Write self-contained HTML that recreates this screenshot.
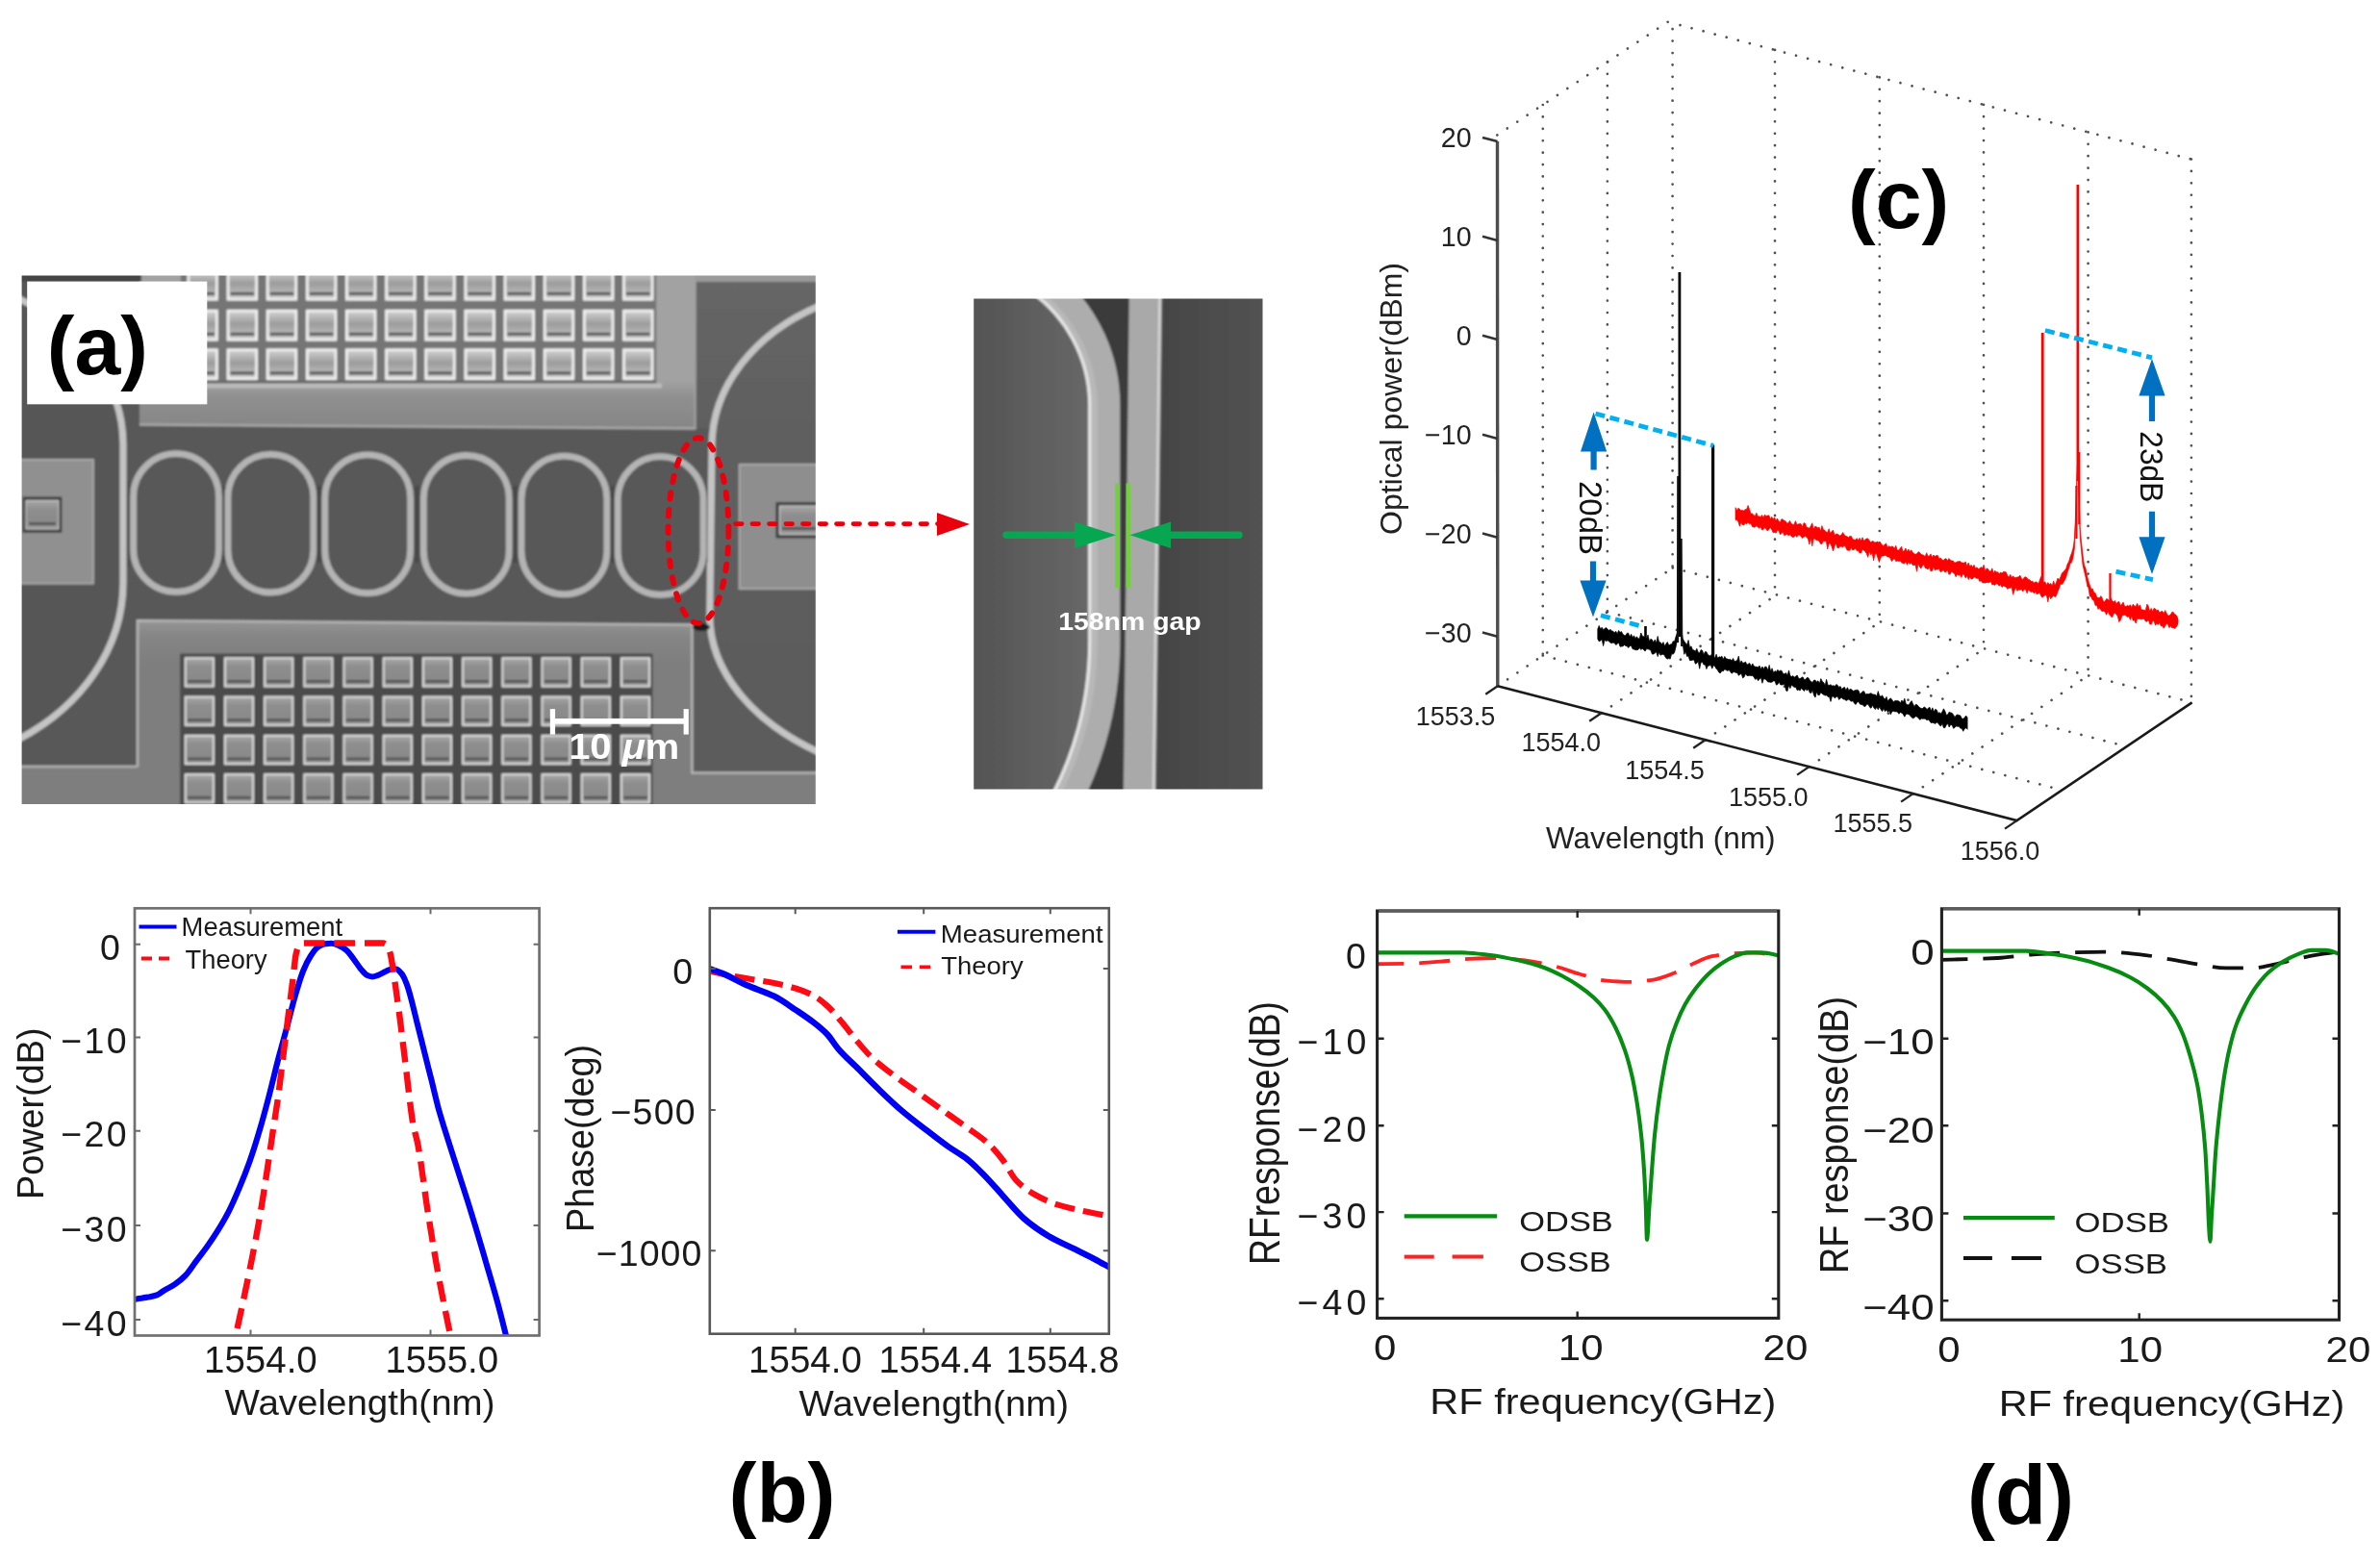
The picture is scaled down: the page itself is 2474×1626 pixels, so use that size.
<!DOCTYPE html>
<html lang="en"><head><meta charset="utf-8"><title>Figure</title>
<style>html,body{margin:0;padding:0;background:#fff}svg{display:block;filter:blur(0.55px)}</style></head><body>
<svg width="2474" height="1626" viewBox="0 0 2474 1626">
<defs>
<linearGradient id="tg" x1="0" y1="0" x2="0" y2="1"><stop offset="0" stop-color="#a8a8a8"/><stop offset="0.3" stop-color="#8e8e8e"/><stop offset="0.7" stop-color="#8a8a8a"/><stop offset="1" stop-color="#9a9a9a"/></linearGradient>
<linearGradient id="tgT" x1="0" y1="0" x2="0" y2="1"><stop offset="0" stop-color="#d2d2d2"/><stop offset="0.45" stop-color="#9c9c9c"/><stop offset="0.75" stop-color="#b4b4b4"/><stop offset="1" stop-color="#cfcfcf"/></linearGradient>
<linearGradient id="ing" gradientUnits="userSpaceOnUse" x1="1012" y1="0" x2="1150" y2="0"><stop offset="0" stop-color="#545454"/><stop offset="0.45" stop-color="#5e5e5e"/><stop offset="0.85" stop-color="#676767"/><stop offset="1" stop-color="#646464"/></linearGradient>
<linearGradient id="ing2" gradientUnits="userSpaceOnUse" x1="1205" y1="0" x2="1313" y2="0"><stop offset="0" stop-color="#444"/><stop offset="0.5" stop-color="#4d4d4d"/><stop offset="1" stop-color="#525252"/></linearGradient>
<filter id="soft" x="-2%" y="-2%" width="104%" height="104%"><feGaussianBlur stdDeviation="0.9"/></filter>
<filter id="soft2" x="-2%" y="-2%" width="104%" height="104%"><feGaussianBlur stdDeviation="1.2"/></filter>
<linearGradient id="padT" gradientUnits="userSpaceOnUse" x1="0" y1="396" x2="0" y2="446"><stop offset="0" stop-color="#a2a2a2"/><stop offset="0.35" stop-color="#8f8f8f"/><stop offset="1" stop-color="#868686"/></linearGradient>
<linearGradient id="padB" gradientUnits="userSpaceOnUse" x1="0" y1="644" x2="0" y2="690"><stop offset="0" stop-color="#969696"/><stop offset="0.4" stop-color="#858585"/><stop offset="1" stop-color="#7e7e7e"/></linearGradient>
<linearGradient id="subR" gradientUnits="userSpaceOnUse" x1="0" y1="293" x2="0" y2="836"><stop offset="0" stop-color="#666"/><stop offset="0.3" stop-color="#5f5f5f"/><stop offset="1" stop-color="#5b5b5b"/></linearGradient>
</defs>
<rect width="2474" height="1626" fill="#fff"/>
<clipPath id="semclip"><rect x="22.6" y="286.5" width="825.2" height="549.5"/></clipPath>
<g clip-path="url(#semclip)"><g filter="url(#soft)">
<rect x="0" y="270" width="900" height="600" fill="#595959"/>
<path d="M724,270 H864 V870 H719 V650 H737.5 L740,445 H724 Z" fill="url(#subR)"/>
<path d="M0,270 H128 V606 A235,193 0 0 1 15,770.8 L0,780 Z" fill="#565656"/>
<path d="M145,270 H723.5 V445.5 L145,441.5 Z" fill="url(#padT)"/>
<path d="M145,441.5 L723.5,445.5" stroke="#a8a8a8" stroke-width="2.5" fill="none"/>
<path d="M722.5,270 V445" stroke="#a0a0a0" stroke-width="2" fill="none"/>
<rect x="723" y="270" width="140" height="23" fill="#9a9a9a"/>
<rect x="10" y="270" width="137" height="22.5" fill="#444"/>
<rect x="188" y="270" width="494.2" height="127.6" fill="#747474"/>
<rect x="188" y="396.2" width="494.2" height="2.4" fill="#555" opacity="0.7"/><rect x="188" y="398.6" width="500" height="5" fill="#c4c4c4" opacity="0.75"/>
<rect x="648.5" y="281.2" width="29.6" height="30" fill="url(#tgT)" stroke="#efefef" stroke-width="2.8"/><rect x="650.9" y="303.8" width="24.8" height="3.2" fill="#5c5c5c"/>
<rect x="607.4" y="281.2" width="29.6" height="30" fill="url(#tgT)" stroke="#efefef" stroke-width="2.8"/><rect x="609.8" y="303.8" width="24.8" height="3.2" fill="#5c5c5c"/>
<rect x="566.2" y="281.2" width="29.6" height="30" fill="url(#tgT)" stroke="#efefef" stroke-width="2.8"/><rect x="568.6" y="303.8" width="24.8" height="3.2" fill="#5c5c5c"/>
<rect x="525" y="281.2" width="29.6" height="30" fill="url(#tgT)" stroke="#efefef" stroke-width="2.8"/><rect x="527.4" y="303.8" width="24.8" height="3.2" fill="#5c5c5c"/>
<rect x="483.9" y="281.2" width="29.6" height="30" fill="url(#tgT)" stroke="#efefef" stroke-width="2.8"/><rect x="486.3" y="303.8" width="24.8" height="3.2" fill="#5c5c5c"/>
<rect x="442.7" y="281.2" width="29.6" height="30" fill="url(#tgT)" stroke="#efefef" stroke-width="2.8"/><rect x="445.1" y="303.8" width="24.8" height="3.2" fill="#5c5c5c"/>
<rect x="401.6" y="281.2" width="29.6" height="30" fill="url(#tgT)" stroke="#efefef" stroke-width="2.8"/><rect x="404" y="303.8" width="24.8" height="3.2" fill="#5c5c5c"/>
<rect x="360.4" y="281.2" width="29.6" height="30" fill="url(#tgT)" stroke="#efefef" stroke-width="2.8"/><rect x="362.8" y="303.8" width="24.8" height="3.2" fill="#5c5c5c"/>
<rect x="319.3" y="281.2" width="29.6" height="30" fill="url(#tgT)" stroke="#efefef" stroke-width="2.8"/><rect x="321.7" y="303.8" width="24.8" height="3.2" fill="#5c5c5c"/>
<rect x="278.1" y="281.2" width="29.6" height="30" fill="url(#tgT)" stroke="#efefef" stroke-width="2.8"/><rect x="280.6" y="303.8" width="24.8" height="3.2" fill="#5c5c5c"/>
<rect x="237" y="281.2" width="29.6" height="30" fill="url(#tgT)" stroke="#efefef" stroke-width="2.8"/><rect x="239.4" y="303.8" width="24.8" height="3.2" fill="#5c5c5c"/>
<rect x="195.8" y="281.2" width="29.6" height="30" fill="url(#tgT)" stroke="#efefef" stroke-width="2.8"/><rect x="198.2" y="303.8" width="24.8" height="3.2" fill="#5c5c5c"/>
<rect x="648.5" y="323.2" width="29.6" height="30" fill="url(#tgT)" stroke="#efefef" stroke-width="2.8"/><rect x="650.9" y="345.8" width="24.8" height="3.2" fill="#5c5c5c"/>
<rect x="607.4" y="323.2" width="29.6" height="30" fill="url(#tgT)" stroke="#efefef" stroke-width="2.8"/><rect x="609.8" y="345.8" width="24.8" height="3.2" fill="#5c5c5c"/>
<rect x="566.2" y="323.2" width="29.6" height="30" fill="url(#tgT)" stroke="#efefef" stroke-width="2.8"/><rect x="568.6" y="345.8" width="24.8" height="3.2" fill="#5c5c5c"/>
<rect x="525" y="323.2" width="29.6" height="30" fill="url(#tgT)" stroke="#efefef" stroke-width="2.8"/><rect x="527.4" y="345.8" width="24.8" height="3.2" fill="#5c5c5c"/>
<rect x="483.9" y="323.2" width="29.6" height="30" fill="url(#tgT)" stroke="#efefef" stroke-width="2.8"/><rect x="486.3" y="345.8" width="24.8" height="3.2" fill="#5c5c5c"/>
<rect x="442.7" y="323.2" width="29.6" height="30" fill="url(#tgT)" stroke="#efefef" stroke-width="2.8"/><rect x="445.1" y="345.8" width="24.8" height="3.2" fill="#5c5c5c"/>
<rect x="401.6" y="323.2" width="29.6" height="30" fill="url(#tgT)" stroke="#efefef" stroke-width="2.8"/><rect x="404" y="345.8" width="24.8" height="3.2" fill="#5c5c5c"/>
<rect x="360.4" y="323.2" width="29.6" height="30" fill="url(#tgT)" stroke="#efefef" stroke-width="2.8"/><rect x="362.8" y="345.8" width="24.8" height="3.2" fill="#5c5c5c"/>
<rect x="319.3" y="323.2" width="29.6" height="30" fill="url(#tgT)" stroke="#efefef" stroke-width="2.8"/><rect x="321.7" y="345.8" width="24.8" height="3.2" fill="#5c5c5c"/>
<rect x="278.1" y="323.2" width="29.6" height="30" fill="url(#tgT)" stroke="#efefef" stroke-width="2.8"/><rect x="280.6" y="345.8" width="24.8" height="3.2" fill="#5c5c5c"/>
<rect x="237" y="323.2" width="29.6" height="30" fill="url(#tgT)" stroke="#efefef" stroke-width="2.8"/><rect x="239.4" y="345.8" width="24.8" height="3.2" fill="#5c5c5c"/>
<rect x="195.8" y="323.2" width="29.6" height="30" fill="url(#tgT)" stroke="#efefef" stroke-width="2.8"/><rect x="198.2" y="345.8" width="24.8" height="3.2" fill="#5c5c5c"/>
<rect x="648.5" y="363.7" width="29.6" height="30" fill="url(#tgT)" stroke="#efefef" stroke-width="2.8"/><rect x="650.9" y="386.3" width="24.8" height="3.2" fill="#5c5c5c"/>
<rect x="607.4" y="363.7" width="29.6" height="30" fill="url(#tgT)" stroke="#efefef" stroke-width="2.8"/><rect x="609.8" y="386.3" width="24.8" height="3.2" fill="#5c5c5c"/>
<rect x="566.2" y="363.7" width="29.6" height="30" fill="url(#tgT)" stroke="#efefef" stroke-width="2.8"/><rect x="568.6" y="386.3" width="24.8" height="3.2" fill="#5c5c5c"/>
<rect x="525" y="363.7" width="29.6" height="30" fill="url(#tgT)" stroke="#efefef" stroke-width="2.8"/><rect x="527.4" y="386.3" width="24.8" height="3.2" fill="#5c5c5c"/>
<rect x="483.9" y="363.7" width="29.6" height="30" fill="url(#tgT)" stroke="#efefef" stroke-width="2.8"/><rect x="486.3" y="386.3" width="24.8" height="3.2" fill="#5c5c5c"/>
<rect x="442.7" y="363.7" width="29.6" height="30" fill="url(#tgT)" stroke="#efefef" stroke-width="2.8"/><rect x="445.1" y="386.3" width="24.8" height="3.2" fill="#5c5c5c"/>
<rect x="401.6" y="363.7" width="29.6" height="30" fill="url(#tgT)" stroke="#efefef" stroke-width="2.8"/><rect x="404" y="386.3" width="24.8" height="3.2" fill="#5c5c5c"/>
<rect x="360.4" y="363.7" width="29.6" height="30" fill="url(#tgT)" stroke="#efefef" stroke-width="2.8"/><rect x="362.8" y="386.3" width="24.8" height="3.2" fill="#5c5c5c"/>
<rect x="319.3" y="363.7" width="29.6" height="30" fill="url(#tgT)" stroke="#efefef" stroke-width="2.8"/><rect x="321.7" y="386.3" width="24.8" height="3.2" fill="#5c5c5c"/>
<rect x="278.1" y="363.7" width="29.6" height="30" fill="url(#tgT)" stroke="#efefef" stroke-width="2.8"/><rect x="280.6" y="386.3" width="24.8" height="3.2" fill="#5c5c5c"/>
<rect x="237" y="363.7" width="29.6" height="30" fill="url(#tgT)" stroke="#efefef" stroke-width="2.8"/><rect x="239.4" y="386.3" width="24.8" height="3.2" fill="#5c5c5c"/>
<rect x="195.8" y="363.7" width="29.6" height="30" fill="url(#tgT)" stroke="#efefef" stroke-width="2.8"/><rect x="198.2" y="386.3" width="24.8" height="3.2" fill="#5c5c5c"/>
<path d="M143,645.2 L719.4,649.6 V803.5 H870 V860 H0 V797 H143 Z" fill="url(#padB)"/>
<path d="M143,797 V645.2 L719.4,649.6 V803.5 H870" stroke="#b4b4b4" stroke-width="2.5" fill="none"/>
<path d="M0,797 H143" stroke="#b0b0b0" stroke-width="2.5" fill="none"/>
<rect x="187" y="679.5" width="491.5" height="180" fill="#4c4c4c"/>
<rect x="192.7" y="684.2" width="29.2" height="29.4" fill="url(#tg)" stroke="#e0e0e0" stroke-width="1.9"/><rect x="195" y="706.9" width="24.6" height="3" fill="#555"/>
<rect x="233.9" y="684.2" width="29.2" height="29.4" fill="url(#tg)" stroke="#e0e0e0" stroke-width="1.9"/><rect x="236.2" y="706.9" width="24.6" height="3" fill="#555"/>
<rect x="275.1" y="684.2" width="29.2" height="29.4" fill="url(#tg)" stroke="#e0e0e0" stroke-width="1.9"/><rect x="277.4" y="706.9" width="24.6" height="3" fill="#555"/>
<rect x="316.3" y="684.2" width="29.2" height="29.4" fill="url(#tg)" stroke="#e0e0e0" stroke-width="1.9"/><rect x="318.6" y="706.9" width="24.6" height="3" fill="#555"/>
<rect x="357.5" y="684.2" width="29.2" height="29.4" fill="url(#tg)" stroke="#e0e0e0" stroke-width="1.9"/><rect x="359.8" y="706.9" width="24.6" height="3" fill="#555"/>
<rect x="398.7" y="684.2" width="29.2" height="29.4" fill="url(#tg)" stroke="#e0e0e0" stroke-width="1.9"/><rect x="401" y="706.9" width="24.6" height="3" fill="#555"/>
<rect x="439.9" y="684.2" width="29.2" height="29.4" fill="url(#tg)" stroke="#e0e0e0" stroke-width="1.9"/><rect x="442.2" y="706.9" width="24.6" height="3" fill="#555"/>
<rect x="481.1" y="684.2" width="29.2" height="29.4" fill="url(#tg)" stroke="#e0e0e0" stroke-width="1.9"/><rect x="483.4" y="706.9" width="24.6" height="3" fill="#555"/>
<rect x="522.3" y="684.2" width="29.2" height="29.4" fill="url(#tg)" stroke="#e0e0e0" stroke-width="1.9"/><rect x="524.6" y="706.9" width="24.6" height="3" fill="#555"/>
<rect x="563.5" y="684.2" width="29.2" height="29.4" fill="url(#tg)" stroke="#e0e0e0" stroke-width="1.9"/><rect x="565.8" y="706.9" width="24.6" height="3" fill="#555"/>
<rect x="604.7" y="684.2" width="29.2" height="29.4" fill="url(#tg)" stroke="#e0e0e0" stroke-width="1.9"/><rect x="607" y="706.9" width="24.6" height="3" fill="#555"/>
<rect x="645.9" y="684.2" width="29.2" height="29.4" fill="url(#tg)" stroke="#e0e0e0" stroke-width="1.9"/><rect x="648.2" y="706.9" width="24.6" height="3" fill="#555"/>
<rect x="192.7" y="724.5" width="29.2" height="29.4" fill="url(#tg)" stroke="#e0e0e0" stroke-width="1.9"/><rect x="195" y="747.2" width="24.6" height="3" fill="#555"/>
<rect x="233.9" y="724.5" width="29.2" height="29.4" fill="url(#tg)" stroke="#e0e0e0" stroke-width="1.9"/><rect x="236.2" y="747.2" width="24.6" height="3" fill="#555"/>
<rect x="275.1" y="724.5" width="29.2" height="29.4" fill="url(#tg)" stroke="#e0e0e0" stroke-width="1.9"/><rect x="277.4" y="747.2" width="24.6" height="3" fill="#555"/>
<rect x="316.3" y="724.5" width="29.2" height="29.4" fill="url(#tg)" stroke="#e0e0e0" stroke-width="1.9"/><rect x="318.6" y="747.2" width="24.6" height="3" fill="#555"/>
<rect x="357.5" y="724.5" width="29.2" height="29.4" fill="url(#tg)" stroke="#e0e0e0" stroke-width="1.9"/><rect x="359.8" y="747.2" width="24.6" height="3" fill="#555"/>
<rect x="398.7" y="724.5" width="29.2" height="29.4" fill="url(#tg)" stroke="#e0e0e0" stroke-width="1.9"/><rect x="401" y="747.2" width="24.6" height="3" fill="#555"/>
<rect x="439.9" y="724.5" width="29.2" height="29.4" fill="url(#tg)" stroke="#e0e0e0" stroke-width="1.9"/><rect x="442.2" y="747.2" width="24.6" height="3" fill="#555"/>
<rect x="481.1" y="724.5" width="29.2" height="29.4" fill="url(#tg)" stroke="#e0e0e0" stroke-width="1.9"/><rect x="483.4" y="747.2" width="24.6" height="3" fill="#555"/>
<rect x="522.3" y="724.5" width="29.2" height="29.4" fill="url(#tg)" stroke="#e0e0e0" stroke-width="1.9"/><rect x="524.6" y="747.2" width="24.6" height="3" fill="#555"/>
<rect x="563.5" y="724.5" width="29.2" height="29.4" fill="url(#tg)" stroke="#e0e0e0" stroke-width="1.9"/><rect x="565.8" y="747.2" width="24.6" height="3" fill="#555"/>
<rect x="604.7" y="724.5" width="29.2" height="29.4" fill="url(#tg)" stroke="#e0e0e0" stroke-width="1.9"/><rect x="607" y="747.2" width="24.6" height="3" fill="#555"/>
<rect x="645.9" y="724.5" width="29.2" height="29.4" fill="url(#tg)" stroke="#e0e0e0" stroke-width="1.9"/><rect x="648.2" y="747.2" width="24.6" height="3" fill="#555"/>
<rect x="192.7" y="764.8" width="29.2" height="29.4" fill="url(#tg)" stroke="#e0e0e0" stroke-width="1.9"/><rect x="195" y="787.5" width="24.6" height="3" fill="#555"/>
<rect x="233.9" y="764.8" width="29.2" height="29.4" fill="url(#tg)" stroke="#e0e0e0" stroke-width="1.9"/><rect x="236.2" y="787.5" width="24.6" height="3" fill="#555"/>
<rect x="275.1" y="764.8" width="29.2" height="29.4" fill="url(#tg)" stroke="#e0e0e0" stroke-width="1.9"/><rect x="277.4" y="787.5" width="24.6" height="3" fill="#555"/>
<rect x="316.3" y="764.8" width="29.2" height="29.4" fill="url(#tg)" stroke="#e0e0e0" stroke-width="1.9"/><rect x="318.6" y="787.5" width="24.6" height="3" fill="#555"/>
<rect x="357.5" y="764.8" width="29.2" height="29.4" fill="url(#tg)" stroke="#e0e0e0" stroke-width="1.9"/><rect x="359.8" y="787.5" width="24.6" height="3" fill="#555"/>
<rect x="398.7" y="764.8" width="29.2" height="29.4" fill="url(#tg)" stroke="#e0e0e0" stroke-width="1.9"/><rect x="401" y="787.5" width="24.6" height="3" fill="#555"/>
<rect x="439.9" y="764.8" width="29.2" height="29.4" fill="url(#tg)" stroke="#e0e0e0" stroke-width="1.9"/><rect x="442.2" y="787.5" width="24.6" height="3" fill="#555"/>
<rect x="481.1" y="764.8" width="29.2" height="29.4" fill="url(#tg)" stroke="#e0e0e0" stroke-width="1.9"/><rect x="483.4" y="787.5" width="24.6" height="3" fill="#555"/>
<rect x="522.3" y="764.8" width="29.2" height="29.4" fill="url(#tg)" stroke="#e0e0e0" stroke-width="1.9"/><rect x="524.6" y="787.5" width="24.6" height="3" fill="#555"/>
<rect x="563.5" y="764.8" width="29.2" height="29.4" fill="url(#tg)" stroke="#e0e0e0" stroke-width="1.9"/><rect x="565.8" y="787.5" width="24.6" height="3" fill="#555"/>
<rect x="604.7" y="764.8" width="29.2" height="29.4" fill="url(#tg)" stroke="#e0e0e0" stroke-width="1.9"/><rect x="607" y="787.5" width="24.6" height="3" fill="#555"/>
<rect x="645.9" y="764.8" width="29.2" height="29.4" fill="url(#tg)" stroke="#e0e0e0" stroke-width="1.9"/><rect x="648.2" y="787.5" width="24.6" height="3" fill="#555"/>
<rect x="192.7" y="805.1" width="29.2" height="29.4" fill="url(#tg)" stroke="#e0e0e0" stroke-width="1.9"/><rect x="195" y="827.8" width="24.6" height="3" fill="#555"/>
<rect x="233.9" y="805.1" width="29.2" height="29.4" fill="url(#tg)" stroke="#e0e0e0" stroke-width="1.9"/><rect x="236.2" y="827.8" width="24.6" height="3" fill="#555"/>
<rect x="275.1" y="805.1" width="29.2" height="29.4" fill="url(#tg)" stroke="#e0e0e0" stroke-width="1.9"/><rect x="277.4" y="827.8" width="24.6" height="3" fill="#555"/>
<rect x="316.3" y="805.1" width="29.2" height="29.4" fill="url(#tg)" stroke="#e0e0e0" stroke-width="1.9"/><rect x="318.6" y="827.8" width="24.6" height="3" fill="#555"/>
<rect x="357.5" y="805.1" width="29.2" height="29.4" fill="url(#tg)" stroke="#e0e0e0" stroke-width="1.9"/><rect x="359.8" y="827.8" width="24.6" height="3" fill="#555"/>
<rect x="398.7" y="805.1" width="29.2" height="29.4" fill="url(#tg)" stroke="#e0e0e0" stroke-width="1.9"/><rect x="401" y="827.8" width="24.6" height="3" fill="#555"/>
<rect x="439.9" y="805.1" width="29.2" height="29.4" fill="url(#tg)" stroke="#e0e0e0" stroke-width="1.9"/><rect x="442.2" y="827.8" width="24.6" height="3" fill="#555"/>
<rect x="481.1" y="805.1" width="29.2" height="29.4" fill="url(#tg)" stroke="#e0e0e0" stroke-width="1.9"/><rect x="483.4" y="827.8" width="24.6" height="3" fill="#555"/>
<rect x="522.3" y="805.1" width="29.2" height="29.4" fill="url(#tg)" stroke="#e0e0e0" stroke-width="1.9"/><rect x="524.6" y="827.8" width="24.6" height="3" fill="#555"/>
<rect x="563.5" y="805.1" width="29.2" height="29.4" fill="url(#tg)" stroke="#e0e0e0" stroke-width="1.9"/><rect x="565.8" y="827.8" width="24.6" height="3" fill="#555"/>
<rect x="604.7" y="805.1" width="29.2" height="29.4" fill="url(#tg)" stroke="#e0e0e0" stroke-width="1.9"/><rect x="607" y="827.8" width="24.6" height="3" fill="#555"/>
<rect x="645.9" y="805.1" width="29.2" height="29.4" fill="url(#tg)" stroke="#e0e0e0" stroke-width="1.9"/><rect x="648.2" y="827.8" width="24.6" height="3" fill="#555"/>
<rect x="0" y="478" width="96.9" height="128.6" fill="#909090"/>
<rect x="0" y="478" width="96.9" height="128.6" fill="none" stroke="#a8a8a8" stroke-width="2"/>
<rect x="23.6" y="516.5" width="40.7" height="37.3" fill="#3c3c3c"/>
<rect x="27" y="520.5" width="33.8" height="29.5" fill="url(#tg)" stroke="#ccc" stroke-width="1.2"/>
<rect x="30" y="543" width="28" height="3" fill="#555"/>
<rect x="768.7" y="483" width="100" height="129" fill="#8e8e8e"/>
<rect x="768.7" y="483" width="100" height="129" fill="none" stroke="#a8a8a8" stroke-width="2"/>
<rect x="806.5" y="522" width="60" height="37.5" fill="#3c3c3c"/>
<rect x="810.5" y="526" width="50" height="29.5" fill="url(#tg)" stroke="#ccc" stroke-width="1.2"/>
<rect x="813" y="548" width="40" height="3" fill="#555"/>
<path d="M15,308.2 A235,180 0 0 1 128,462 L128,606 A235,193 0 0 1 15,770.8" stroke="#c4c4c4" stroke-width="7.1" fill="none"/>
<path d="M855,316.6 A215,166.5 0 0 0 740,464 L737.8,640 A272,175 0 0 0 855,783.9" stroke="#c4c4c4" stroke-width="7.1" fill="none"/>
<path d="M232.2,505 V585" stroke="#464646" stroke-width="5" opacity="0.8"/>
<path d="M331.8,505 V585" stroke="#464646" stroke-width="5" opacity="0.8"/>
<path d="M433.5,505 V585" stroke="#464646" stroke-width="5" opacity="0.8"/>
<path d="M535.6,505 V585" stroke="#464646" stroke-width="5" opacity="0.8"/>
<path d="M636.6,505 V585" stroke="#464646" stroke-width="5" opacity="0.8"/>
<path d="M133.4,500 V590 M734.3,505 V585" stroke="#484848" stroke-width="2.4" opacity="0.7"/>
<rect x="138.6" y="471.7" width="88.9" height="143.7" rx="44.5" stroke="#b4b4b4" stroke-width="6.8" fill="none"/>
<rect x="236.9" y="472.3" width="88.9" height="143.7" rx="44.5" stroke="#b4b4b4" stroke-width="6.8" fill="none"/>
<rect x="337.7" y="472.9" width="88.9" height="143.7" rx="44.5" stroke="#b4b4b4" stroke-width="6.8" fill="none"/>
<rect x="440.3" y="473.5" width="88.9" height="143.7" rx="44.5" stroke="#b4b4b4" stroke-width="6.8" fill="none"/>
<rect x="542" y="474.1" width="88.9" height="143.7" rx="44.5" stroke="#b4b4b4" stroke-width="6.8" fill="none"/>
<rect x="642.2" y="474.7" width="88.9" height="143.7" rx="44.5" stroke="#b4b4b4" stroke-width="6.8" fill="none"/>
<ellipse cx="729" cy="652" rx="9" ry="4" fill="#1c1c1c"/>
</g>
<g fill="#fff"><rect x="574.4" y="746.9" width="139.6" height="5.8"/><rect x="571.8" y="737.1" width="5.3" height="26.5"/><rect x="710.6" y="737.1" width="5.2" height="26.5"/></g>
<text x="591.2" y="788.9" style="font-family:'Liberation Sans',sans-serif;font-weight:bold;font-size:37.5px" fill="#fff" textLength="115" lengthAdjust="spacingAndGlyphs">10 <tspan style="font-style:italic">μ</tspan>m</text>
<rect x="28.2" y="292.6" width="187.1" height="127.7" fill="#fff"/>
</g>
<text x="48.8" y="388.8" style="font-family:'Liberation Sans',sans-serif;font-weight:bold;font-size:86px" fill="#000">(a)</text>
<ellipse cx="726" cy="551.6" rx="31.4" ry="96.3" fill="none" stroke="#e8000c" stroke-width="5.9" stroke-dasharray="6.4 11.2" stroke-linecap="round"/>
<path d="M764.5,544.6 H975" stroke="#e8000c" stroke-width="4.7" stroke-dasharray="6.6 10.9" stroke-linecap="round" fill="none"/>
<path d="M974,533 L1008,545 L974,557 Z" fill="#e8000c"/>
<clipPath id="inclip"><rect x="1012.2" y="310.4" width="300.3" height="510.2"/></clipPath>
<g clip-path="url(#inclip)"><g filter="url(#soft2)">
<rect x="1000" y="300" width="330" height="540" fill="url(#ing)"/>
<path d="M1080,300 H1180 L1172,840 H1080 Z" fill="#3b3b3b"/>
<path d="M1000,300 H1093.3 A161.5,161.5 0 0 1 1147.8,421 L1147.8,666 A366.5,366.5 0 0 1 1103.9,840 H1000 Z" fill="url(#ing)"/>
<path d="M1093.3,300 A161.5,161.5 0 0 1 1147.8,421 L1147.8,666 A366.5,366.5 0 0 1 1103.9,840" stroke="#adadad" stroke-width="33" fill="none"/>
<path d="M1071.5,300 A150,150 0 0 1 1136.3,421 L1136.3,666 A355,355 0 0 1 1090.5,840" stroke="#bcbcbc" stroke-width="9" fill="none" opacity="0.75"/>
<path d="M1067.7,300 A146.5,146.5 0 0 1 1132.8,421 L1132.8,666 A351.5,351.5 0 0 1 1086.8,840" stroke="#e6e6e6" stroke-width="3.2" fill="none"/>
<path d="M1173.8,300 H1207.2 L1200.4,840 H1167.7 Z" fill="#a9a9a9"/>
<path d="M1205.8,300 L1199,840" stroke="#d4d4d4" stroke-width="3"/>
<path d="M1209,300 H1330 V840 H1202 Z" fill="url(#ing2)"/>
</g>
<g stroke="#6fd13c" stroke-width="4.4"><path d="M1161.6,502.5 V611"/><path d="M1172.8,502.5 V611"/></g>
<g stroke="#07a651" stroke-width="7.4" stroke-linecap="round"><path d="M1046,556.3 H1125"/><path d="M1288,556.3 H1208"/></g>
<path d="M1117,542.5 L1160,556.3 L1117,570 Z" fill="#07a651"/>
<path d="M1217,542.5 L1174.5,556.3 L1217,570 Z" fill="#07a651"/>
<text x="1100.2" y="654.5" style="font-family:'Liberation Sans',sans-serif;font-weight:bold;font-size:26px" fill="#fff" textLength="148.5" lengthAdjust="spacingAndGlyphs">158nm gap</text>
</g>
<g>
<path d="M1603.8,109 L1603.8,681.5" stroke="#505050" stroke-width="2.7" stroke-dasharray="0.01 12.4" stroke-linecap="round" fill="none"/>
<path d="M1670.9,64.4 L1670.9,636.2" stroke="#505050" stroke-width="2.7" stroke-dasharray="0.01 12.4" stroke-linecap="round" fill="none"/>
<path d="M1738.6,30.2 L1738.6,590.4" stroke="#505050" stroke-width="2.7" stroke-dasharray="0.01 12.4" stroke-linecap="round" fill="none"/>
<path d="M1845,51.9 L1845,617.9" stroke="#505050" stroke-width="2.7" stroke-dasharray="0.01 12.4" stroke-linecap="round" fill="none"/>
<path d="M1953.8,80.4 L1953.8,646.1" stroke="#505050" stroke-width="2.7" stroke-dasharray="0.01 12.4" stroke-linecap="round" fill="none"/>
<path d="M2062,108.8 L2062,674.2" stroke="#505050" stroke-width="2.7" stroke-dasharray="0.01 12.4" stroke-linecap="round" fill="none"/>
<path d="M2170.6,137.4 L2170.6,702.3" stroke="#505050" stroke-width="2.7" stroke-dasharray="0.01 12.4" stroke-linecap="round" fill="none"/>
<path d="M2277.9,165.5 L2277.9,730.1" stroke="#505050" stroke-width="2.7" stroke-dasharray="0.01 12.4" stroke-linecap="round" fill="none"/>
<path d="M1556.4,140.4 L1733.8,22.7" stroke="#505050" stroke-width="2.7" stroke-dasharray="0.01 12.5" stroke-linecap="round" fill="none"/>
<path d="M1746.5,26.1 L2278.2,165.6" stroke="#505050" stroke-width="2.7" stroke-dasharray="0.01 12.45" stroke-linecap="round" fill="none"/>
<path d="M1603.8,681.5 L2143.5,821.4" stroke="#505050" stroke-width="2.7" stroke-dasharray="0.01 12.4" stroke-linecap="round" fill="none"/>
<path d="M1670.9,636.2 L2210.6,776.1" stroke="#505050" stroke-width="2.7" stroke-dasharray="0.01 12.4" stroke-linecap="round" fill="none"/>
<path d="M1738.8,590.4 L2278.6,730.3" stroke="#505050" stroke-width="2.7" stroke-dasharray="0.01 12.4" stroke-linecap="round" fill="none"/>
<path d="M1556.8,713.2 L1738.8,590.4" stroke="#505050" stroke-width="2.7" stroke-dasharray="0.01 12.4" stroke-linecap="round" fill="none"/>
<path d="M1664.7,741.2 L1846.7,618.4" stroke="#505050" stroke-width="2.7" stroke-dasharray="0.01 12.4" stroke-linecap="round" fill="none"/>
<path d="M1772.7,769.2 L1954.7,646.4" stroke="#505050" stroke-width="2.7" stroke-dasharray="0.01 12.4" stroke-linecap="round" fill="none"/>
<path d="M1880.6,797.1 L2062.6,674.3" stroke="#505050" stroke-width="2.7" stroke-dasharray="0.01 12.4" stroke-linecap="round" fill="none"/>
<path d="M1988.6,825.1 L2170.6,702.3" stroke="#505050" stroke-width="2.7" stroke-dasharray="0.01 12.4" stroke-linecap="round" fill="none"/>
</g>
<path d="M1556.5,147 L1556.8,713.2" stroke="#4d4d4d" stroke-width="3.4" fill="none"/>
<path d="M1556.8,713.2 L2096.5,853.1 L2278.6,730.3" stroke="#1a1a1a" stroke-width="2.6" fill="none" stroke-linejoin="miter"/>
<path d="M1556.5,147.1 l-15.5,-4.2" stroke="#333" stroke-width="2.6" fill="none"/>
<text x="1529.6" y="153.3" text-anchor="end" style="font-family:'Liberation Sans',sans-serif;font-size:28.6px" fill="#222">20</text>
<path d="M1556.5,250 l-15.5,-4.2" stroke="#333" stroke-width="2.6" fill="none"/>
<text x="1529.6" y="256.2" text-anchor="end" style="font-family:'Liberation Sans',sans-serif;font-size:28.6px" fill="#222">10</text>
<path d="M1556.5,352.9 l-15.5,-4.2" stroke="#333" stroke-width="2.6" fill="none"/>
<text x="1529.6" y="359.1" text-anchor="end" style="font-family:'Liberation Sans',sans-serif;font-size:28.6px" fill="#222">0</text>
<path d="M1556.5,455.9 l-15.5,-4.2" stroke="#333" stroke-width="2.6" fill="none"/>
<text x="1529.6" y="462.1" text-anchor="end" style="font-family:'Liberation Sans',sans-serif;font-size:28.6px" fill="#222">−10</text>
<path d="M1556.5,558.8 l-15.5,-4.2" stroke="#333" stroke-width="2.6" fill="none"/>
<text x="1529.6" y="565" text-anchor="end" style="font-family:'Liberation Sans',sans-serif;font-size:28.6px" fill="#222">−20</text>
<path d="M1556.5,661.7 l-15.5,-4.2" stroke="#333" stroke-width="2.6" fill="none"/>
<text x="1529.6" y="667.9" text-anchor="end" style="font-family:'Liberation Sans',sans-serif;font-size:28.6px" fill="#222">−30</text>
<path d="M1556.8,713.2 l-12.5,8.5" stroke="#222" stroke-width="2.3" fill="none"/>
<text x="1554.3" y="753.9" text-anchor="end" style="font-family:'Liberation Sans',sans-serif;font-size:27px" fill="#222">1553.5</text>
<path d="M1664.7,741.2 l-12.5,8.5" stroke="#222" stroke-width="2.3" fill="none"/>
<text x="1664.0" y="780.9" text-anchor="end" style="font-family:'Liberation Sans',sans-serif;font-size:27px" fill="#222">1554.0</text>
<path d="M1772.7,769.2 l-12.5,8.5" stroke="#222" stroke-width="2.3" fill="none"/>
<text x="1771.8" y="809.7" text-anchor="end" style="font-family:'Liberation Sans',sans-serif;font-size:27px" fill="#222">1554.5</text>
<path d="M1880.6,797.1 l-12.5,8.5" stroke="#222" stroke-width="2.3" fill="none"/>
<text x="1879.5" y="837.6" text-anchor="end" style="font-family:'Liberation Sans',sans-serif;font-size:27px" fill="#222">1555.0</text>
<path d="M1988.6,825.1 l-12.5,8.5" stroke="#222" stroke-width="2.3" fill="none"/>
<text x="1988.0" y="864.9" text-anchor="end" style="font-family:'Liberation Sans',sans-serif;font-size:27px" fill="#222">1555.5</text>
<path d="M2096.5,853.1 l-12.5,8.5" stroke="#222" stroke-width="2.3" fill="none"/>
<text x="2120.4" y="894.4" text-anchor="end" style="font-family:'Liberation Sans',sans-serif;font-size:27px" fill="#222">1556.0</text>
<text x="1607" y="881.5" style="font-family:'Liberation Sans',sans-serif;font-size:30.5px" fill="#222" textLength="238.5" lengthAdjust="spacingAndGlyphs">Wavelength (nm)</text>
<text transform="translate(1456.5,556) rotate(-90)" style="font-family:'Liberation Sans',sans-serif;font-size:32px" fill="#222" textLength="283" lengthAdjust="spacingAndGlyphs">Optical power(dBm)</text>
<text x="1921" y="236.6" style="font-family:'Liberation Sans',sans-serif;font-weight:bold;font-size:86px" fill="#000">(c)</text>
<polygon points="1660.8,654 1662.2,650.4 1663.7,653.9 1665.2,652.2 1666.6,654.8 1668.1,653.5 1669.5,652.5 1671,653.9 1672.4,655.6 1673.9,654.2 1675.3,655.9 1676.8,656.2 1678.2,657.8 1679.7,656.2 1681.1,658.9 1682.6,655.4 1684,657.4 1685.5,656.6 1686.9,659.3 1688.4,660.4 1689.8,660.7 1691.3,658.2 1692.7,658.2 1694.2,662.3 1695.6,659.3 1697.1,662.8 1698.5,660.8 1700,663.8 1701.4,661.8 1702.9,663.9 1704.3,663.8 1705.8,658 1707.2,661.2 1708.7,661.8 1710.1,662.4 1711.6,664 1713,660 1714.5,666.8 1715.9,664.3 1717.4,665.1 1718.8,668 1720.3,664.9 1721.7,668.5 1723.2,661.4 1724.6,667.8 1726.1,667.7 1727.5,669.9 1729,667.6 1730.4,671.6 1731.9,669.3 1733.3,667.5 1734.8,671 1736.2,669.9 1737.7,669.8 1739.1,666.7 1740.6,667 1742,662 1743.5,657.4 1744.9,648 1746.4,645.4 1747.8,654.7 1749.3,664 1750.7,666.6 1752.2,668.8 1753.6,670.2 1755.1,665.5 1756.5,673.2 1758,671.8 1759.4,675.4 1760.9,675.9 1762.3,677.2 1763.8,674.3 1765.2,678.1 1766.7,678.9 1768.1,675.6 1769.6,676.2 1771,680.5 1772.5,677.6 1773.9,677.8 1775.4,680.7 1776.8,681.4 1778.3,682 1779.7,679.1 1781.2,683.4 1782.6,684 1784.1,680.2 1785.5,684.3 1787,682.7 1788.4,683.3 1789.9,682.2 1791.3,685.6 1792.8,682.4 1794.2,684.7 1795.7,685.1 1797.1,685.8 1798.6,685.3 1800,687 1801.5,684.5 1802.9,687.4 1804.4,687.2 1805.8,686.4 1807.3,682.1 1808.7,689.7 1810.2,686.9 1811.6,689.3 1813.1,689 1814.5,688.1 1816,691.3 1817.4,690.2 1818.9,689.6 1820.3,692.7 1821.8,689.9 1823.2,692.5 1824.7,693.2 1826.1,693.2 1827.6,693.8 1829,692.1 1830.5,695.7 1831.9,693 1833.4,695.5 1834.8,693 1836.3,693.4 1837.7,696.7 1839.2,691.4 1840.6,698 1842.1,694.8 1843.5,699.3 1845,697.6 1846.4,698.5 1847.9,696.3 1849.3,698.1 1850.8,696.9 1852.2,697.5 1853.7,700.8 1855.1,700.6 1856.6,699.5 1858,702.2 1859.5,696.9 1860.9,702.4 1862.4,703.5 1863.8,702.5 1865.3,704.3 1866.7,702.9 1868.2,702 1869.6,705.2 1871.1,705.6 1872.5,704.6 1874,703.8 1875.4,706.4 1876.9,706.4 1878.3,704.5 1879.8,704.7 1881.2,707.1 1882.7,708.7 1884.1,709.4 1885.6,707.1 1887,707.2 1888.5,709.1 1889.9,707.8 1891.4,710.6 1892.8,705.6 1894.3,708.4 1895.7,709.6 1897.2,712.6 1898.6,706.3 1900.1,712.3 1901.5,712.4 1903,711.7 1904.4,713 1905.9,712.8 1907.3,713.4 1908.8,711.5 1910.2,712.4 1911.7,714.5 1913.1,713.5 1914.6,716.7 1916,715 1917.5,714.4 1918.9,717.8 1920.4,714.7 1921.8,717.7 1923.3,716.2 1924.7,716.8 1926.2,718.4 1927.6,717.9 1929.1,717.4 1930.5,717.2 1932,717.9 1933.4,721.4 1934.9,720.6 1936.3,718.8 1937.8,718.8 1939.2,722 1940.7,721.3 1942.1,721.8 1943.6,721.1 1945,720.7 1946.5,721.7 1947.9,722.1 1949.4,722.1 1950.8,723.9 1952.3,718.6 1953.7,723.5 1955.2,724.1 1956.6,722.9 1958.1,725.6 1959.5,727 1961,724.4 1962.4,728.7 1963.9,727 1965.3,725.8 1966.8,727.5 1968.2,730 1969.7,728.5 1971.1,728.4 1972.6,728.4 1974,729.1 1975.5,730.7 1976.9,728 1978.4,729.9 1979.8,726.2 1981.3,731.9 1982.7,732.6 1984.2,733 1985.6,730.4 1987.1,728.6 1988.5,731.7 1990,734.7 1991.4,732.3 1992.9,732.8 1994.3,734.6 1995.8,735.8 1997.2,736.6 1998.7,736.6 2000.1,734.9 2001.6,735.8 2003,737.6 2004.5,736.2 2005.9,735.2 2007.4,739.2 2008.8,735.8 2010.3,740.1 2011.7,737.3 2013.2,738.1 2014.6,741.4 2016.1,740.7 2017.5,741.9 2019,739.9 2020.4,736.8 2021.9,739.5 2023.3,743.4 2024.8,742.8 2026.2,740.2 2027.7,740.9 2029.1,741.3 2030.6,743.2 2032,745.7 2033.5,743.6 2034.9,742.9 2036.4,743.6 2037.8,743.9 2039.3,747 2040.7,747.2 2042.2,746.2 2043.6,744 2045.1,746 2045.1,758.3 2043.6,756.8 2042.2,757.7 2040.7,760.3 2039.3,757.3 2037.8,757.2 2036.4,755.3 2034.9,755.2 2033.5,754.9 2032,756.4 2030.6,757.3 2029.1,753.7 2027.7,753.4 2026.2,755.9 2024.8,752.6 2023.3,753.4 2021.9,756.6 2020.4,756.7 2019,752.2 2017.5,754.9 2016.1,753.9 2014.6,751.7 2013.2,751.1 2011.7,752.5 2010.3,751.8 2008.8,751.2 2007.4,751.7 2005.9,749.7 2004.5,748 2003,748.8 2001.6,747.5 2000.1,747.1 1998.7,747.3 1997.2,747.1 1995.8,748.4 1994.3,746.8 1992.9,745.2 1991.4,744.8 1990,746.1 1988.5,746.8 1987.1,745.8 1985.6,744 1984.2,742.7 1982.7,742.2 1981.3,742.5 1979.8,745.2 1978.4,742.7 1976.9,741.2 1975.5,740.5 1974,742.3 1972.6,740.4 1971.1,739.7 1969.7,739.9 1968.2,739.2 1966.8,739.7 1965.3,742.8 1963.9,738.8 1962.4,740.4 1961,737.7 1959.5,739.8 1958.1,736.5 1956.6,739.6 1955.2,737.8 1953.7,734.8 1952.3,737.8 1950.8,735.1 1949.4,737.6 1947.9,735.9 1946.5,733.2 1945,736.3 1943.6,735.3 1942.1,732.5 1940.7,732 1939.2,734.2 1937.8,734.5 1936.3,732.8 1934.9,732.5 1933.4,732.1 1932,729.5 1930.5,730 1929.1,732.4 1927.6,731.3 1926.2,728.7 1924.7,729.2 1923.3,728.5 1921.8,727.1 1920.4,727.8 1918.9,728.4 1917.5,727 1916,727 1914.6,725.6 1913.1,725.8 1911.7,727.5 1910.2,723.9 1908.8,724.5 1907.3,725.9 1905.9,724.1 1904.4,724.1 1903,729.4 1901.5,724.2 1900.1,724.4 1898.6,722.8 1897.2,723.1 1895.7,722.3 1894.3,721.4 1892.8,719.8 1891.4,722.5 1889.9,722.7 1888.5,719.2 1887,725.1 1885.6,723.1 1884.1,717.6 1882.7,720.6 1881.2,720.1 1879.8,716.4 1878.3,718.1 1876.9,715.9 1875.4,718.5 1874,716.9 1872.5,715.6 1871.1,718 1869.6,717.1 1868.2,717.7 1866.7,714.4 1865.3,714.5 1863.8,713.5 1862.4,712.1 1860.9,715.7 1859.5,712.5 1858,718.6 1856.6,718.1 1855.1,711.5 1853.7,711.8 1852.2,712.1 1850.8,711.9 1849.3,708.9 1847.9,711.6 1846.4,712.1 1845,707.9 1843.5,707.9 1842.1,709.1 1840.6,709.4 1839.2,709 1837.7,709.1 1836.3,707.2 1834.8,706.1 1833.4,705.7 1831.9,710.3 1830.5,704.5 1829,706 1827.6,707.8 1826.1,705.3 1824.7,706.5 1823.2,704 1821.8,702.4 1820.3,702.6 1818.9,702.3 1817.4,702.5 1816,702.5 1814.5,700.4 1813.1,703.8 1811.6,704.9 1810.2,700.3 1808.7,701.2 1807.3,702.3 1805.8,699.5 1804.4,699.5 1802.9,698.5 1801.5,699.1 1800,700.2 1798.6,698.2 1797.1,696.6 1795.7,697.5 1794.2,696.6 1792.8,695.7 1791.3,697.8 1789.9,697.5 1788.4,699.7 1787,699.3 1785.5,696.8 1784.1,695.3 1782.6,692.7 1781.2,691.8 1779.7,695.2 1778.3,691.3 1776.8,692.1 1775.4,692.2 1773.9,695.6 1772.5,690.9 1771,691.1 1769.6,688.3 1768.1,688.8 1766.7,695.3 1765.2,687.5 1763.8,689.6 1762.3,690.2 1760.9,685.9 1759.4,686.3 1758,686.5 1756.5,686.7 1755.1,681.9 1753.6,682.5 1752.2,677.6 1750.7,680.3 1749.3,670 1747.8,662.9 1746.4,650.3 1744.9,654.9 1743.5,665.2 1742,672.8 1740.6,678.4 1739.1,680.3 1737.7,679.5 1736.2,685.1 1734.8,684.6 1733.3,685.1 1731.9,684.3 1730.4,681.8 1729,680.2 1727.5,680.4 1726.1,681.3 1724.6,678.2 1723.2,682.6 1721.7,677.8 1720.3,679 1718.8,680.1 1717.4,680.1 1715.9,676 1714.5,675.2 1713,674.8 1711.6,674.6 1710.1,677.1 1708.7,675.7 1707.2,674.2 1705.8,675.5 1704.3,673.6 1702.9,675.4 1701.4,675.8 1700,675.7 1698.5,675.1 1697.1,674.7 1695.6,671.4 1694.2,671.6 1692.7,673.6 1691.3,671.8 1689.8,671.4 1688.4,670.5 1686.9,672 1685.5,672.1 1684,672.2 1682.6,667.9 1681.1,669.6 1679.7,670.4 1678.2,668.5 1676.8,668.1 1675.3,668.8 1673.9,668.1 1672.4,666.8 1671,665.7 1669.5,666.8 1668.1,665.2 1666.6,671.6 1665.2,664.7 1663.7,666.1 1662.2,666.9 1660.8,664.3" fill="#000" stroke="#000" stroke-width="0.7" stroke-linejoin="miter"/>
<path d="M1745.9,283 V662" stroke="#000" stroke-width="2.8" fill="none"/>
<path d="M1744.3,495 L1744,668 M1747.6,560 L1748.2,672" stroke="#111" stroke-width="2.2" fill="none"/>
<path d="M1780.6,462.5 V691" stroke="#000" stroke-width="3.2" fill="none"/>
<path d="M1710.5,651 V670.7" stroke="#000" stroke-width="2.6" fill="none"/>
<polygon points="1804,527.7 1805.5,530.8 1806.9,528.3 1808.4,529.2 1809.8,530.8 1811.3,530.6 1812.7,530.9 1814.2,529.6 1815.6,529.4 1817.1,525.4 1818.5,529.4 1820,534.1 1821.4,533.8 1822.9,535.5 1824.3,536.4 1825.8,533.2 1827.2,536.8 1828.7,536.8 1830.1,537.5 1831.6,535.4 1833,537.9 1834.5,535.1 1835.9,536.4 1837.4,536 1838.8,535.8 1840.3,539.6 1841.7,537.3 1843.2,539.8 1844.6,537.9 1846.1,541.3 1847.5,539 1849,542 1850.4,542.7 1851.9,539.7 1853.3,540 1854.8,541.3 1856.2,541.9 1857.7,544.3 1859.1,543.5 1860.6,541.4 1862,544.4 1863.5,545.2 1864.9,545.4 1866.4,541.6 1867.8,545.3 1869.3,545 1870.7,544.5 1872.2,544.8 1873.6,547.9 1875.1,543.6 1876.5,544.3 1878,548.3 1879.4,548.4 1880.9,549.3 1882.3,546.8 1883.8,543.7 1885.2,550.3 1886.7,547.3 1888.1,547.4 1889.6,548.9 1891,548.1 1892.5,552 1893.9,546.6 1895.4,550.7 1896.8,551.2 1898.3,553.1 1899.7,553.5 1901.2,549.7 1902.6,554.5 1904.1,552.6 1905.5,551 1907,556.3 1908.4,555.3 1909.9,555 1911.3,555.9 1912.8,557.1 1914.2,555.8 1915.7,553.5 1917.1,556.1 1918.6,557.2 1920,557.8 1921.5,558.7 1922.9,557.4 1924.4,557.4 1925.8,560.4 1927.3,561.1 1928.7,561.2 1930.2,559.6 1931.6,562.1 1933.1,559.3 1934.5,562.3 1936,558.7 1937.4,562.3 1938.9,560.9 1940.3,559.9 1941.8,559.9 1943.2,562 1944.7,564 1946.1,562.4 1947.6,563.1 1949,564.1 1950.5,563.6 1951.9,563 1953.4,565.9 1954.8,564.2 1956.3,566.2 1957.7,567.7 1959.2,566 1960.6,564.9 1962.1,569.2 1963.5,567.6 1965,568.9 1966.4,568 1967.9,568.3 1969.3,570.2 1970.8,567.3 1972.2,571.9 1973.7,571.9 1975.1,570.2 1976.6,568.2 1978,573.3 1979.5,572.4 1980.9,570 1982.4,573.5 1983.8,570.9 1985.3,573.7 1986.7,571.8 1988.2,574.3 1989.6,575.4 1991.1,576.3 1992.5,575.8 1994,573.7 1995.4,574.3 1996.9,576.3 1998.3,576.8 1999.8,577.3 2001.2,578.6 2002.7,574.7 2004.1,578.3 2005.6,577.9 2007,575.9 2008.5,579.5 2009.9,577 2011.4,578.6 2012.8,577.5 2014.3,577.4 2015.7,580.9 2017.2,579.9 2018.6,581.7 2020.1,582.8 2021.5,581.1 2023,580.8 2024.4,583.1 2025.9,580.6 2027.3,582.3 2028.8,583 2030.2,582.9 2031.7,585.1 2033.1,584.8 2034.6,583.9 2036,583.7 2037.5,583.5 2038.9,585 2040.4,585.1 2041.8,585.3 2043.3,584.1 2044.7,588.5 2046.2,585.1 2047.6,589.1 2049.1,587.3 2050.5,589.5 2052,587.3 2053.4,591.1 2054.9,589.8 2056.3,591.4 2057.8,591 2059.2,589.6 2060.7,590.4 2062.1,587.3 2063.6,593.7 2065,590.9 2066.5,591.4 2067.9,593.7 2069.4,594.1 2070.8,590.8 2072.3,595.8 2073.7,593.2 2075.2,594.8 2076.6,594.7 2078.1,596.5 2079.5,595 2081,595.9 2082.4,594.4 2083.9,594.4 2085.3,594.9 2086.8,598.6 2088.2,599.9 2089.7,597.3 2091.1,600.3 2092.6,598.8 2094,600.5 2095.5,600.6 2096.9,600.1 2098.4,599.8 2099.8,598.1 2101.3,601.2 2102.7,602.4 2104.2,600.2 2105.6,599.8 2107.1,600.8 2108.5,602.6 2110,602.8 2111.4,604.5 2112.9,604.2 2114.3,606.1 2115.8,605 2117.2,605 2118.7,607.1 2120.1,603.8 2121.6,599.5 2123,603 2124.5,605.7 2125.9,604.8 2127.4,608.6 2128.8,605.6 2130.3,607.4 2131.7,606.4 2133.2,609 2134.6,604.1 2136.1,608.5 2137.5,605.4 2139,601.1 2140.4,602.8 2141.9,600 2143.3,596.1 2144.8,594.4 2146.2,593.2 2147.7,590.9 2149.1,586.4 2150.6,583.8 2152,578.8 2153.5,574.9 2154.9,570.2 2156.4,560.4 2157.8,530.9 2159.3,484.7 2160.7,495.4 2162.2,550 2163.6,563.7 2165.1,577.5 2166.5,587.5 2168,590.7 2169.4,597.9 2170.9,604.1 2172.3,608.2 2173.8,612.6 2175.2,611.9 2176.7,616.1 2178.1,616.6 2179.6,620.6 2181,621.5 2182.5,621.4 2183.9,619.6 2185.4,622.2 2186.8,626 2188.3,625 2189.7,622.4 2191.2,623.2 2192.6,624.6 2194.1,621.8 2195.5,624.3 2197,625.8 2198.4,624.4 2199.9,627.4 2201.3,626.2 2202.8,625.3 2204.2,629.4 2205.7,628.1 2207.1,626.1 2208.6,630.2 2210,630.6 2211.5,629.3 2212.9,630.2 2214.4,628.7 2215.8,631.5 2217.3,628.1 2218.7,629.9 2220.2,630.4 2221.6,627.2 2223.1,630.9 2224.5,628.8 2226,633.8 2227.4,633.9 2228.9,634.3 2230.3,634.7 2231.8,628.1 2233.2,629.9 2234.7,635.4 2236.1,632.4 2237.6,635.7 2239,632.4 2240.5,632.9 2241.9,634.7 2243.4,634.1 2244.8,637 2246.3,635.8 2247.7,635.3 2249.2,637.8 2250.6,634.6 2252.1,637.3 2253.5,640 2255,639.9 2256.4,638.7 2257.9,636.2 2259.3,636.6 2260.8,639.6 2260.8,653.7 2259.3,649.6 2257.9,652.8 2256.4,650.8 2255,652.7 2253.5,649 2252.1,648.3 2250.6,650.9 2249.2,653.2 2247.7,650.5 2246.3,650.9 2244.8,647.4 2243.4,649.4 2241.9,648.1 2240.5,650.2 2239,645.7 2237.6,645.8 2236.1,649.2 2234.7,648.8 2233.2,644.4 2231.8,646.3 2230.3,645.9 2228.9,643.5 2227.4,643.4 2226,644.1 2224.5,643.6 2223.1,643.6 2221.6,643.3 2220.2,648.1 2218.7,644.7 2217.3,645.3 2215.8,640.5 2214.4,644.4 2212.9,640.8 2211.5,641.5 2210,640.1 2208.6,639.6 2207.1,639.4 2205.7,640.8 2204.2,644.9 2202.8,646.6 2201.3,640.7 2199.9,638.8 2198.4,637.2 2197,638.5 2195.5,642.1 2194.1,640.6 2192.6,638.7 2191.2,635.6 2189.7,639.3 2188.3,636.4 2186.8,635.2 2185.4,635.7 2183.9,634.6 2182.5,632.1 2181,633.4 2179.6,629.2 2178.1,629.5 2176.7,624.8 2175.2,623.7 2173.8,620.8 2172.3,619.8 2170.9,611.1 2169.4,607.2 2168,600.1 2166.5,593.7 2165.1,587.9 2163.6,573.6 2162.2,558 2160.7,503.1 2159.3,491.9 2157.8,536.3 2156.4,570.1 2154.9,580 2153.5,584.8 2152,585.8 2150.6,590.9 2149.1,595.1 2147.7,600.1 2146.2,603.3 2144.8,605.7 2143.3,607.7 2141.9,606.9 2140.4,612.1 2139,615 2137.5,619.4 2136.1,620.8 2134.6,619.3 2133.2,620.8 2131.7,622.7 2130.3,619 2128.8,625.8 2127.4,618.9 2125.9,618.4 2124.5,620 2123,621.2 2121.6,619.4 2120.1,616 2118.7,617.1 2117.2,617.7 2115.8,615 2114.3,616.9 2112.9,614.9 2111.4,615.6 2110,614.6 2108.5,613.3 2107.1,616.8 2105.6,612.8 2104.2,612.8 2102.7,614.9 2101.3,612.6 2099.8,613.3 2098.4,613.1 2096.9,614.4 2095.5,610.7 2094,614.1 2092.6,618.3 2091.1,610.2 2089.7,611.5 2088.2,611.3 2086.8,612.5 2085.3,610.2 2083.9,609.7 2082.4,609.3 2081,610.5 2079.5,607.8 2078.1,609.3 2076.6,607.2 2075.2,606.6 2073.7,608.5 2072.3,607.8 2070.8,607.9 2069.4,604.3 2067.9,605.7 2066.5,605.7 2065,605.4 2063.6,606.3 2062.1,603.7 2060.7,605.6 2059.2,603.7 2057.8,604.5 2056.3,601.1 2054.9,601.6 2053.4,600.4 2052,599.7 2050.5,601.9 2049.1,602.1 2047.6,599.7 2046.2,602.6 2044.7,598.5 2043.3,601 2041.8,598.1 2040.4,596.6 2038.9,600.4 2037.5,597.2 2036,598.6 2034.6,596.9 2033.1,599.7 2031.7,596.5 2030.2,595.6 2028.8,593.9 2027.3,596.7 2025.9,597.3 2024.4,592.7 2023,594.6 2021.5,594.8 2020.1,592.5 2018.6,594.1 2017.2,594.7 2015.7,591.6 2014.3,592.1 2012.8,591.9 2011.4,592.9 2009.9,589.6 2008.5,593.5 2007,593.9 2005.6,589.6 2004.1,592 2002.7,591 2001.2,590.5 1999.8,586.8 1998.3,588.4 1996.9,590.9 1995.4,589.2 1994,586 1992.5,594.2 1991.1,587.4 1989.6,587.4 1988.2,587.5 1986.7,585.1 1985.3,586.6 1983.8,583.9 1982.4,587.3 1980.9,583.8 1979.5,586.2 1978,585.6 1976.6,584.8 1975.1,583.1 1973.7,583.8 1972.2,582.9 1970.8,583.7 1969.3,580.6 1967.9,581.8 1966.4,583.6 1965,580.4 1963.5,579.1 1962.1,578.9 1960.6,577.8 1959.2,577.4 1957.7,578.1 1956.3,578.1 1954.8,580 1953.4,584.5 1951.9,580 1950.5,575.6 1949,575.9 1947.6,582.9 1946.1,574.9 1944.7,576.8 1943.2,573.1 1941.8,579.4 1940.3,575.6 1938.9,573.6 1937.4,571.9 1936,571.4 1934.5,574.9 1933.1,575 1931.6,572.4 1930.2,572.6 1928.7,570 1927.3,571.4 1925.8,572 1924.4,569.5 1922.9,572.2 1921.5,572.3 1920,571.9 1918.6,569 1917.1,566.9 1915.7,569 1914.2,568.2 1912.8,567.9 1911.3,569.7 1909.9,569.6 1908.4,564.8 1907,567.9 1905.5,573 1904.1,568.5 1902.6,565 1901.2,564.8 1899.7,570.9 1898.3,562.4 1896.8,562.7 1895.4,562.3 1893.9,565.4 1892.5,565.4 1891,562.6 1889.6,561.8 1888.1,561.8 1886.7,560.3 1885.2,559.7 1883.8,567.8 1882.3,559.4 1880.9,566.1 1879.4,560.3 1878,558.4 1876.5,557.6 1875.1,558.3 1873.6,559.5 1872.2,557.8 1870.7,556.2 1869.3,556 1867.8,558.4 1866.4,556.6 1864.9,558.2 1863.5,558.5 1862,557.5 1860.6,555.9 1859.1,556.7 1857.7,555.4 1856.2,556.1 1854.8,556.7 1853.3,553.3 1851.9,554.5 1850.4,555.7 1849,551.8 1847.5,551.3 1846.1,554.2 1844.6,553.4 1843.2,553.8 1841.7,550.7 1840.3,548.4 1838.8,550 1837.4,552.1 1835.9,550.3 1834.5,548.3 1833,550.5 1831.6,551 1830.1,547.5 1828.7,549.2 1827.2,547.9 1825.8,546.5 1824.3,548.2 1822.9,548 1821.4,547.6 1820,544 1818.5,544.8 1817.1,542.9 1815.6,545 1814.2,543.8 1812.7,545.9 1811.3,545.7 1809.8,543.1 1808.4,547.2 1806.9,542.4 1805.5,540.6 1804,540.6" fill="#ff0000" stroke="#ff0000" stroke-width="0.7" stroke-linejoin="miter"/>
<ellipse cx="2260" cy="645.8" rx="4.5" ry="7.5" fill="#ff0000"/>
<path d="M2159.8,192 V500" stroke="#ff0000" stroke-width="2.6" fill="none"/>
<path d="M2158.4,505 V560 M2161.3,470 V545" stroke="#ff0000" stroke-width="2.2" fill="none"/>
<path d="M2123.2,346 V616.5" stroke="#ff0000" stroke-width="2.8" fill="none"/>
<path d="M2193.5,596 V629.5" stroke="#ff0000" stroke-width="2.2" fill="none"/>
<g stroke="#00b0f0" stroke-width="4.8" stroke-dasharray="10 5.5" fill="none"><path d="M1658.5,430 L1781,463.3"/><path d="M1664,639.8 L1706,651"/><path d="M2126,343.5 L2237,371.8"/><path d="M2199.5,594.2 L2238,602.6"/></g>
<path d="M1656.6,428.5 L1670.1999999999998,469.6 L1659.6999999999998,469.6 L1659.6999999999998,488.6 L1653.5,488.6 L1653.5,469.6 L1643.0,469.6 Z" fill="#0070c0"/>
<path d="M1656.0,641.6 L1669.6,603.6 L1659.1,603.6 L1659.1,583.5 L1652.9,583.5 L1652.9,603.6 L1642.4,603.6 Z" fill="#0070c0"/>
<path d="M2237.0,373.0 L2250.6,411.6 L2240.1,411.6 L2240.1,438.0 L2233.9,438.0 L2233.9,411.6 L2223.4,411.6 Z" fill="#0070c0"/>
<path d="M2237.0,597.0 L2250.6,558.2 L2240.1,558.2 L2240.1,531.8 L2233.9,531.8 L2233.9,558.2 L2223.4,558.2 Z" fill="#0070c0"/>
<text transform="translate(1641.5,500) rotate(90)" style="font-family:'Liberation Sans',sans-serif;font-size:34px" fill="#111" textLength="77" lengthAdjust="spacingAndGlyphs">20dB</text>
<text transform="translate(2224.5,448.3) rotate(90)" style="font-family:'Liberation Sans',sans-serif;font-size:34px" fill="#111" textLength="74" lengthAdjust="spacingAndGlyphs">23dB</text>
<clipPath id="c1"><rect x="140.0" y="944.3" width="420.6" height="444.2"/></clipPath>
<g clip-path="url(#c1)">
<path d="M140.2,1350.8 C142.9,1350.4 145.6,1349.8 148.3,1349.4 C150.8,1349 153.3,1348.7 155.7,1348.3 C158.2,1347.8 160.7,1347.3 163.1,1346.4 C165.6,1345.5 168.1,1343.1 170.6,1341.6 C174.3,1339.3 178,1337.8 181.7,1335.3 C185.4,1332.8 189.1,1329.8 192.8,1326 C196.5,1322.2 200.2,1316.1 203.9,1311.2 C207.6,1306.2 211.3,1301.6 215.1,1296.3 C218.8,1291.1 222.5,1285.6 226.2,1279.7 C229.9,1273.7 233.6,1267.6 237.3,1260.4 C241,1253.2 244.7,1244.7 248.4,1235.9 C252.1,1227.1 255.8,1217.9 259.5,1207.4 C263.3,1196.8 267,1184.8 270.7,1172.1 C273.8,1161.5 276.9,1149.8 280,1137.9 C283.1,1126.2 286.1,1112.8 289.2,1101.1 C292.3,1089.4 295.3,1078.8 298.4,1067.3 C301.2,1056.8 304,1044.8 306.9,1035.1 C309.7,1025.5 312.5,1015.8 315.3,1009 C317.8,1002.8 320.4,997.6 323,993.7 C325.5,989.9 328.1,986.2 330.6,984.5 C332.7,983.1 334.7,981.7 336.8,981.4 C339.3,981.1 341.9,980.8 344.4,980.8 C347,980.8 349.5,982 352.1,983 C354.7,983.9 357.2,985.5 359.8,987.6 C362.3,989.6 364.9,993.4 367.4,996.8 C370,1000.1 372.6,1004.5 375.1,1007.5 C377.2,1009.9 379.2,1012.7 381.3,1013.7 C383.3,1014.6 385.4,1015.5 387.4,1015.5 C389.4,1015.5 391.5,1014.4 393.5,1013.7 C396.1,1012.7 398.6,1010.9 401.2,1009.8 C403.2,1008.9 405.3,1007.5 407.3,1007.5 C408.9,1007.5 410.4,1007.5 411.9,1007.5 C413.7,1007.5 415.5,1010 417.3,1012.1 C419.1,1014.2 420.9,1018.3 422.7,1022.9 C424.2,1026.7 425.8,1032.6 427.3,1038.2 C429.3,1045.6 431.4,1054.6 433.4,1062.8 C436,1073 438.5,1083.2 441.1,1093.4 C443.6,1103.6 446.2,1113.9 448.8,1124.1 C451.3,1134.3 453.9,1145.5 456.4,1154.8 C458,1160.3 459.5,1165.1 461,1170.1 C465.6,1184.9 470.1,1198.7 474.6,1212.9 C479.5,1228.4 484.5,1243.2 489.4,1259.3 C494.4,1275.3 499.3,1292.3 504.3,1309.3 C509.2,1326.3 514.2,1342.7 519.1,1361.2 C522.2,1372.8 525.3,1385.9 528.4,1398.3" stroke="#0000f5" stroke-width="6.1" fill="none"/>
<path d="M242.9,1398.3 C248.4,1372.4 254,1348.3 259.5,1320.4 C263.3,1301.9 267,1282.8 270.7,1261.1 C275.3,1233.9 280,1200.8 284.6,1170.1 C286.1,1160 287.7,1150.7 289.2,1139.5 C290.5,1130.2 291.8,1118.9 293,1108.8 C294.3,1098.5 295.6,1088.3 296.9,1078.1 C298.2,1067.9 299.4,1057.6 300.7,1047.4 C302,1037.1 303.3,1027 304.6,1016.7 C305.6,1008.6 306.6,996.5 307.6,992.2 C308.6,987.8 309.7,984.2 310.7,983.3 C312.5,981.6 314.3,980.5 316.1,980.5 C329.6,980.5 343.1,980.5 356.7,980.5 C370.5,980.5 384.3,980.5 398.1,980.5 C399.3,980.5 400.4,981 401.5,981.7 C402.7,982.5 403.9,985.6 405,989.1 C406.1,992.1 407.1,998.4 408.1,1004.4 C409.1,1010.4 410.1,1018.7 411.2,1025.9 C412.4,1035.1 413.7,1043.8 415,1053.5 C416.3,1063.2 417.6,1073.8 418.8,1084.2 C420.1,1094.8 421.4,1105.7 422.7,1116.4 C424.2,1129.2 425.8,1143.6 427.3,1154.8 C428.1,1160.4 428.8,1166.2 429.6,1170.1 C431,1177.3 432.4,1180.2 433.8,1187 C437.5,1204.8 441.2,1237.7 444.9,1261.1 C448.6,1284.5 452.4,1307.6 456.1,1327.9 C460.8,1353.6 465.5,1374.8 470.2,1398.3" stroke="#ff0a14" stroke-width="6.4" stroke-dasharray="21.5 10" stroke-dashoffset="14" fill="none"/>
</g>
<rect x="140.0" y="944.3" width="420.6" height="444.2" fill="none" stroke="#707070" stroke-width="2.7"/>
<path d="M140.0,981.8 h6 M560.6,981.8 h-6" stroke="#6a6a6a" stroke-width="2"/>
<path d="M140.0,1078.6 h6 M560.6,1078.6 h-6" stroke="#6a6a6a" stroke-width="2"/>
<path d="M140.0,1175.7 h6 M560.6,1175.7 h-6" stroke="#6a6a6a" stroke-width="2"/>
<path d="M140.0,1274.0 h6 M560.6,1274.0 h-6" stroke="#6a6a6a" stroke-width="2"/>
<path d="M140.0,1372.0 h6 M560.6,1372.0 h-6" stroke="#6a6a6a" stroke-width="2"/>
<path d="M260.5,1388.5 v-6 M260.5,944.3 v6" stroke="#6a6a6a" stroke-width="2"/>
<path d="M447.5,1388.5 v-6 M447.5,944.3 v6" stroke="#6a6a6a" stroke-width="2"/>
<text x="124.8" y="997.6" text-anchor="end" style="font-family:'Liberation Sans',sans-serif;font-size:37.5px" fill="#1a1a1a">0</text>
<text x="131.6" y="1095.2" text-anchor="end" style="font-family:'Liberation Sans',sans-serif;font-size:37.5px" fill="#1a1a1a" textLength="68.4" lengthAdjust="spacing">−10</text>
<text x="131.6" y="1192.3" text-anchor="end" style="font-family:'Liberation Sans',sans-serif;font-size:37.5px" fill="#1a1a1a" textLength="68.4" lengthAdjust="spacing">−20</text>
<text x="131.6" y="1290.6" text-anchor="end" style="font-family:'Liberation Sans',sans-serif;font-size:37.5px" fill="#1a1a1a" textLength="68.4" lengthAdjust="spacing">−30</text>
<text x="131.6" y="1388.6" text-anchor="end" style="font-family:'Liberation Sans',sans-serif;font-size:37.5px" fill="#1a1a1a" textLength="68.4" lengthAdjust="spacing">−40</text>
<text x="270.9" y="1426.8" text-anchor="middle" style="font-family:'Liberation Sans',sans-serif;font-size:38.5px" fill="#1a1a1a">1554.0</text>
<text x="459.3" y="1426.8" text-anchor="middle" style="font-family:'Liberation Sans',sans-serif;font-size:38.5px" fill="#1a1a1a">1555.0</text>
<text x="233.5" y="1471.3" style="font-family:'Liberation Sans',sans-serif;font-size:36.5px" fill="#1a1a1a" textLength="281" lengthAdjust="spacingAndGlyphs">Wavelength(nm)</text>
<text transform="translate(45.3,1247) rotate(-90)" style="font-family:'Liberation Sans',sans-serif;font-size:39px" fill="#1a1a1a" textLength="178.5" lengthAdjust="spacingAndGlyphs">Power(dB)</text>
<path d="M144.5,963.5 H183.5" stroke="#0000f5" stroke-width="4.2"/>
<path d="M146.8,996.5 H177.2" stroke="#ff0a14" stroke-width="4.2" stroke-dasharray="11.2 7"/>
<text x="188.6" y="972.8" style="font-family:'Liberation Sans',sans-serif;font-size:26.8px" fill="#1a1a1a" textLength="167.5" lengthAdjust="spacingAndGlyphs">Measurement</text>
<text x="192.6" y="1006.7" style="font-family:'Liberation Sans',sans-serif;font-size:26.8px" fill="#1a1a1a" textLength="85" lengthAdjust="spacingAndGlyphs">Theory</text>
<clipPath id="c2"><rect x="737.8" y="944.2" width="415" height="442.5"/></clipPath>
<g clip-path="url(#c2)">
<path d="M734.3,1009 C742.9,1010.8 751.6,1012.9 760.2,1014.5 C767.6,1015.9 775.1,1017 782.5,1018.3 C789.9,1019.5 797.3,1020.5 804.7,1022 C812.1,1023.4 819.5,1025.2 827,1027.5 C833.1,1029.4 839.3,1031.7 845.5,1034.9 C850.4,1037.6 855.4,1041.6 860.3,1046.1 C865.3,1050.5 870.2,1056.9 875.2,1062.8 C880.1,1068.6 885.1,1075.4 890,1081.3 C894.9,1087.1 899.9,1093.2 904.8,1098 C912.2,1105.1 919.7,1110.8 927.1,1116.5 C935.7,1123.2 944.4,1128.9 953,1135.1 C961.7,1141.2 970.3,1147.4 979,1153.6 C987.6,1159.8 996.3,1165.8 1004.9,1172.1 C1012.4,1177.6 1019.8,1182.1 1027.2,1188.8 C1032.1,1193.3 1037.1,1199.1 1042,1205.5 C1047,1211.9 1051.9,1222.7 1056.8,1227.7 C1063,1234.1 1069.2,1238.3 1075.4,1241.8 C1082.8,1246.1 1090.2,1249.4 1097.6,1251.9 C1107.5,1255.1 1117.4,1257.1 1127.3,1259.3 C1136.6,1261.3 1145.8,1263 1155.1,1264.8" stroke="#ff0a14" stroke-width="6.2" stroke-dasharray="21 9" fill="none"/>
<path d="M734.3,1006 C740.4,1008.2 746.6,1010.1 752.8,1012.7 C760.2,1015.8 767.6,1020.5 775.1,1023.8 C784.9,1028.2 794.8,1030.8 804.7,1035.7 C812.1,1039.4 819.5,1044.8 827,1049.8 C833.1,1053.9 839.3,1057.9 845.5,1062.8 C850.4,1066.6 855.4,1070.5 860.3,1075.7 C864,1079.7 867.7,1086.3 871.5,1090.6 C877.6,1097.7 883.8,1102.9 890,1109.1 C897.4,1116.5 904.8,1124.2 912.2,1131.3 C920.9,1139.7 929.5,1148.1 938.2,1155.4 C946.8,1162.8 955.5,1169.2 964.2,1175.8 C971.6,1181.5 979,1187.3 986.4,1192.5 C992.6,1196.9 998.8,1200 1004.9,1204.8 C1011.1,1209.6 1017.3,1215.9 1023.5,1222.2 C1029.7,1228.5 1035.8,1235.8 1042,1242.6 C1049.4,1250.7 1056.8,1260.3 1064.3,1266.7 C1072.9,1274.2 1081.6,1280.1 1090.2,1285.2 C1098.9,1290.3 1107.5,1293.9 1116.2,1298.2 C1123.6,1301.9 1131,1305.4 1138.4,1309.3 C1144,1312.3 1149.5,1315.5 1155.1,1318.6" stroke="#0000f5" stroke-width="6.4" fill="none"/>
</g>
<rect x="737.8" y="944.2" width="415" height="442.5" fill="none" stroke="#585858" stroke-width="2.6"/>
<path d="M737.8,1007.1 h6 M1152.8,1007.1 h-6" stroke="#5a5a5a" stroke-width="2"/>
<path d="M737.8,1153.9 h6 M1152.8,1153.9 h-6" stroke="#5a5a5a" stroke-width="2"/>
<path d="M737.8,1300.2 h6 M1152.8,1300.2 h-6" stroke="#5a5a5a" stroke-width="2"/>
<path d="M826.7,1386.7 v-6 M826.7,944.2 v6" stroke="#5a5a5a" stroke-width="2"/>
<path d="M960.2,1386.7 v-6 M960.2,944.2 v6" stroke="#5a5a5a" stroke-width="2"/>
<path d="M1091.8,1386.7 v-6 M1091.8,944.2 v6" stroke="#5a5a5a" stroke-width="2"/>
<text x="720.0" y="1023.0" text-anchor="end" style="font-family:'Liberation Sans',sans-serif;font-size:37.5px" fill="#1a1a1a">0</text>
<text x="722.6" y="1169.1" text-anchor="end" style="font-family:'Liberation Sans',sans-serif;font-size:37.5px" fill="#1a1a1a" textLength="88.2" lengthAdjust="spacing">−500</text>
<text x="729.4" y="1316.3" text-anchor="end" style="font-family:'Liberation Sans',sans-serif;font-size:37.5px" fill="#1a1a1a" textLength="109.6" lengthAdjust="spacing">−1000</text>
<text x="837.0" y="1427" text-anchor="middle" style="font-family:'Liberation Sans',sans-serif;font-size:38.5px" fill="#1a1a1a">1554.0</text>
<text x="972.3" y="1427" text-anchor="middle" style="font-family:'Liberation Sans',sans-serif;font-size:38.5px" fill="#1a1a1a">1554.4</text>
<text x="1104.5" y="1427" text-anchor="middle" style="font-family:'Liberation Sans',sans-serif;font-size:38.5px" fill="#1a1a1a">1554.8</text>
<text x="830.6" y="1472" style="font-family:'Liberation Sans',sans-serif;font-size:36.5px" fill="#1a1a1a" textLength="280.5" lengthAdjust="spacingAndGlyphs">Wavelength(nm)</text>
<text transform="translate(616.8,1281) rotate(-90)" style="font-family:'Liberation Sans',sans-serif;font-size:40px" fill="#1a1a1a" textLength="195" lengthAdjust="spacingAndGlyphs">Phase(deg)</text>
<path d="M932.9,968.8 H972.4" stroke="#0000f5" stroke-width="4"/>
<path d="M936.5,1005.3 H967.2" stroke="#ff0a14" stroke-width="3.6" stroke-dasharray="11.6 7.7"/>
<text x="977.8" y="980" style="font-family:'Liberation Sans',sans-serif;font-size:26.5px" fill="#1a1a1a" textLength="168.8" lengthAdjust="spacingAndGlyphs">Measurement</text>
<text x="978.2" y="1012.9" style="font-family:'Liberation Sans',sans-serif;font-size:26.5px" fill="#1a1a1a" textLength="85.5" lengthAdjust="spacingAndGlyphs">Theory</text>
<clipPath id="cd0"><rect x="1431.6" y="947.0" width="417.2" height="423.4"/></clipPath>
<g clip-path="url(#cd0)">
<path d="M1427.2,1002.3 C1440.8,1002.1 1454.4,1002 1468,1001.6 C1477.9,1001.3 1487.8,1000.5 1497.6,999.7 C1507.5,999 1517.4,997.1 1527.3,996.8 C1537.2,996.4 1547.1,996 1557,996 C1566.9,996 1576.7,997.4 1586.6,998.6 C1596.5,999.8 1606.4,1002.1 1616.3,1004.5 C1624.9,1006.7 1633.6,1010.2 1642.2,1012.7 C1650.9,1015.1 1659.5,1018.6 1668.2,1019.4 C1676.8,1020.2 1685.5,1020.9 1694.2,1020.9 C1702.8,1020.9 1711.5,1019.6 1720.1,1018.3 C1727.5,1017.1 1734.9,1013.8 1742.4,1010.8 C1748.5,1008.4 1754.7,1004.3 1760.9,1001.6 C1767.1,998.8 1773.3,995.4 1779.4,994.2 C1786.8,992.7 1794.3,991.6 1801.7,991.2 C1809.1,990.8 1816.5,990.4 1823.9,990.4 C1833.2,990.4 1842.5,993.7 1851.7,995.3" stroke="#ff2222" stroke-width="3.8" stroke-dasharray="32 16" fill="none"/>
<path d="M1427.2,990.4 C1443.3,990.4 1459.3,990.4 1475.4,990.4 C1490.2,990.4 1505.1,990.4 1519.9,990.4 C1529.8,990.4 1539.7,991.9 1549.5,993 C1559.4,994.2 1569.3,996.4 1579.2,998.6 C1587.9,1000.6 1596.5,1002.9 1605.2,1006 C1611.3,1008.2 1617.5,1011.3 1623.7,1014.5 C1629.9,1017.8 1636.1,1021.4 1642.2,1025.7 C1647.2,1029.1 1652.1,1032.9 1657.1,1037.5 C1660.8,1041 1664.5,1044.9 1668.2,1049.8 C1671.9,1054.7 1675.6,1061 1679.3,1068.3 C1682.4,1074.4 1685.5,1081.7 1688.6,1090.6 C1691.1,1097.6 1693.5,1106 1696,1116.5 C1697.9,1124.4 1699.7,1134.5 1701.6,1146.2 C1703.1,1155.5 1704.5,1165.4 1706,1179.5 C1707,1189 1708,1201.1 1709,1216.6 C1709.6,1226.3 1710.2,1238.3 1710.8,1253.7 C1711.2,1263 1711.6,1288.9 1712,1288.9 C1712.8,1288.9 1713.7,1265.7 1714.5,1253.7 C1715.4,1241.7 1716.3,1228.2 1717.1,1216.6 C1718.1,1203.4 1719.1,1189.6 1720.1,1179.5 C1721.6,1164.5 1723.1,1153 1724.6,1142.5 C1726.2,1131.1 1727.8,1121.4 1729.4,1112.8 C1731.2,1102.9 1733.1,1093.7 1734.9,1086.9 C1737.4,1077.7 1739.9,1070.9 1742.4,1064.6 C1745.4,1056.7 1748.5,1049.8 1751.6,1044.2 C1755.3,1037.6 1759,1032.4 1762.7,1027.5 C1767.1,1021.9 1771.4,1016.8 1775.7,1012.7 C1780.1,1008.6 1784.4,1005.2 1788.7,1002.3 C1793,999.4 1797.4,996.6 1801.7,994.9 C1806.6,992.9 1811.6,990.4 1816.5,990.4 C1821.5,990.4 1826.4,990.4 1831.3,990.4 C1838.1,990.4 1844.9,992.7 1851.7,993.8" stroke="#078c12" stroke-width="4.1" fill="none" stroke-linejoin="round"/>
</g>
<rect x="1431.6" y="947.0" width="417.2" height="423.4" fill="none" stroke="#222" stroke-width="3.1"/>
<path d="M1433.2,947.0 H1847.2" stroke="#5c5c5c" stroke-width="3.1"/>
<path d="M1431.6,1079.8 h7 M1848.8,1079.8 h-7" stroke="#222" stroke-width="2.4"/>
<path d="M1431.6,1170.3 h7 M1848.8,1170.3 h-7" stroke="#222" stroke-width="2.4"/>
<path d="M1431.6,1260.1 h7 M1848.8,1260.1 h-7" stroke="#222" stroke-width="2.4"/>
<path d="M1431.6,1350.2 h7 M1848.8,1350.2 h-7" stroke="#222" stroke-width="2.4"/>
<path d="M1639.7,1370.4 v-7 M1639.7,947.0 v7" stroke="#222" stroke-width="2.4"/>
<text x="1419.8000000000002" y="1007" text-anchor="end" style="font-family:'Liberation Sans',sans-serif;font-size:37.5px" fill="#1a1a1a">0</text>
<text x="1420.4" y="1096.4" text-anchor="end" style="font-family:'Liberation Sans',sans-serif;font-size:37.5px" fill="#1a1a1a" textLength="72.0" lengthAdjust="spacing">−10</text>
<text x="1420.4" y="1186.9" text-anchor="end" style="font-family:'Liberation Sans',sans-serif;font-size:37.5px" fill="#1a1a1a" textLength="72.0" lengthAdjust="spacing">−20</text>
<text x="1420.4" y="1276.7" text-anchor="end" style="font-family:'Liberation Sans',sans-serif;font-size:37.5px" fill="#1a1a1a" textLength="72.0" lengthAdjust="spacing">−30</text>
<text x="1420.4" y="1366.8" text-anchor="end" style="font-family:'Liberation Sans',sans-serif;font-size:37.5px" fill="#1a1a1a" textLength="72.0" lengthAdjust="spacing">−40</text>
<text transform="translate(1439.7,1414.1) scale(1.15,1)" text-anchor="middle" style="font-family:'Liberation Sans',sans-serif;font-size:36.5px" fill="#1a1a1a">0</text>
<text transform="translate(1643.2,1414.1) scale(1.15,1)" text-anchor="middle" style="font-family:'Liberation Sans',sans-serif;font-size:36.5px" fill="#1a1a1a">10</text>
<text transform="translate(1855.9,1414.1) scale(1.15,1)" text-anchor="middle" style="font-family:'Liberation Sans',sans-serif;font-size:36.5px" fill="#1a1a1a">20</text>
<text x="1486.3" y="1469.8" style="font-family:'Liberation Sans',sans-serif;font-size:36.7px" fill="#1a1a1a" textLength="360" lengthAdjust="spacingAndGlyphs">RF frequency(GHz)</text>
<text transform="translate(1330.0,1315) rotate(-90)" style="font-family:'Liberation Sans',sans-serif;font-size:44px" fill="#1a1a1a" textLength="274" lengthAdjust="spacingAndGlyphs">RFresponse(dB)</text>
<path d="M1459.7,1264.4 H1556.2" stroke="#078c12" stroke-width="4.4"/>
<path d="M1459.7,1306.6 H1490.7" stroke="#ff2222" stroke-width="4"/>
<path d="M1509.6,1306.6 H1541.9" stroke="#ff2222" stroke-width="4"/>
<text x="1579.3" y="1279.9" style="font-family:'Liberation Sans',sans-serif;font-size:30px" fill="#1a1a1a" textLength="97.5" lengthAdjust="spacingAndGlyphs">ODSB</text>
<text x="1579.3" y="1322.1" style="font-family:'Liberation Sans',sans-serif;font-size:30px" fill="#1a1a1a" textLength="95.5" lengthAdjust="spacingAndGlyphs">OSSB</text>
<clipPath id="cd1"><rect x="2018.4" y="944.8" width="413.1" height="427.4"/></clipPath>
<g clip-path="url(#cd1)">
<path d="M2013.4,997.9 C2024.6,997.6 2035.7,997.4 2046.8,997.1 C2056.7,996.8 2066.6,996.5 2076.5,996 C2088.8,995.3 2101.2,993.1 2113.5,992.3 C2125.9,991.5 2138.3,990.8 2150.6,990.4 C2163,990.1 2175.3,989.7 2187.7,989.7 C2200.1,989.7 2212.4,991.1 2224.8,992.3 C2234.7,993.3 2244.6,995.5 2254.4,997.1 C2264.3,998.8 2274.2,1000.8 2284.1,1002.3 C2294,1003.8 2303.9,1006.4 2313.8,1006.4 C2322.4,1006.4 2331.1,1006.4 2339.7,1006.4 C2348.4,1006.4 2357,1004 2365.7,1002.3 C2373.1,1000.9 2380.5,998.4 2387.9,996.8 C2395.3,995.1 2402.8,993.5 2410.2,992.3 C2418.3,991 2426.5,990.1 2434.6,989" stroke="#111" stroke-width="3.8" stroke-dasharray="32 16" fill="none"/>
<path d="M2013.4,988.6 C2029.5,988.6 2045.6,988.6 2061.6,988.6 C2076.5,988.6 2091.3,988.6 2106.1,988.6 C2116,988.6 2125.9,990.8 2135.8,992.3 C2145.7,993.8 2155.6,995.5 2165.5,997.9 C2174.1,999.9 2182.8,1002.9 2191.4,1006 C2198.8,1008.7 2206.2,1011.8 2213.7,1015.7 C2219.8,1018.9 2226,1022.9 2232.2,1027.5 C2237.1,1031.2 2242.1,1035.3 2247,1040.5 C2251.4,1045 2255.7,1050.3 2260,1057.2 C2263.1,1062.1 2266.2,1068.3 2269.3,1075.7 C2271.7,1081.7 2274.2,1089.5 2276.7,1098 C2279.2,1106.5 2281.6,1115 2284.1,1127.6 C2285.6,1135.2 2287.1,1145.4 2288.6,1157.3 C2289.8,1167.2 2291,1178 2292.3,1194.4 C2293,1204.2 2293.7,1219.3 2294.5,1235.2 C2295,1245.7 2295.5,1264 2296,1272.2 C2296.5,1280.5 2297,1290.8 2297.5,1290.8 C2298,1290.8 2298.4,1273.1 2298.9,1264.8 C2299.6,1254.5 2300.2,1245 2300.8,1235.2 C2301.7,1221.4 2302.5,1205.1 2303.4,1194.4 C2304.6,1179.1 2305.9,1168.1 2307.1,1157.3 C2308.7,1143.2 2310.3,1130.4 2311.9,1120.2 C2313.8,1108.5 2315.6,1098.5 2317.5,1090.6 C2319.9,1080 2322.4,1071.3 2324.9,1064.6 C2328,1056.2 2331.1,1050.1 2334.2,1044.2 C2337.9,1037.2 2341.6,1030.7 2345.3,1025.7 C2349.6,1019.8 2353.9,1014.8 2358.3,1010.8 C2363.2,1006.3 2368.2,1002.7 2373.1,999.7 C2378,996.8 2383,994.2 2387.9,992.3 C2392.9,990.4 2397.8,987.9 2402.8,987.9 C2407.7,987.9 2412.6,987.9 2417.6,987.9 C2423.3,987.9 2429,991.3 2434.6,993" stroke="#078c12" stroke-width="4.1" fill="none" stroke-linejoin="round"/>
</g>
<rect x="2018.4" y="944.8" width="413.1" height="427.4" fill="none" stroke="#222" stroke-width="3.1"/>
<path d="M2020,944.8 H2429.9" stroke="#5c5c5c" stroke-width="3.1"/>
<path d="M2018.4,1079.8 h7 M2431.5,1079.8 h-7" stroke="#222" stroke-width="2.4"/>
<path d="M2018.4,1170.3 h7 M2431.5,1170.3 h-7" stroke="#222" stroke-width="2.4"/>
<path d="M2018.4,1261.5 h7 M2431.5,1261.5 h-7" stroke="#222" stroke-width="2.4"/>
<path d="M2018.4,1352.2 h7 M2431.5,1352.2 h-7" stroke="#222" stroke-width="2.4"/>
<path d="M2223.7,1372.2 v-7 M2223.7,944.8 v7" stroke="#222" stroke-width="2.4"/>
<text transform="translate(2010.6,1003.2) scale(1.17,1)" text-anchor="end" style="font-family:'Liberation Sans',sans-serif;font-size:37.5px" fill="#1a1a1a">0</text>
<text transform="translate(2010.6,1095.5) scale(1.17,1)" text-anchor="end" style="font-family:'Liberation Sans',sans-serif;font-size:37.5px" fill="#1a1a1a">−10</text>
<text transform="translate(2010.6,1187.8) scale(1.17,1)" text-anchor="end" style="font-family:'Liberation Sans',sans-serif;font-size:37.5px" fill="#1a1a1a">−20</text>
<text transform="translate(2010.6,1280) scale(1.17,1)" text-anchor="end" style="font-family:'Liberation Sans',sans-serif;font-size:37.5px" fill="#1a1a1a">−30</text>
<text transform="translate(2010.6,1372.2) scale(1.17,1)" text-anchor="end" style="font-family:'Liberation Sans',sans-serif;font-size:37.5px" fill="#1a1a1a">−40</text>
<text transform="translate(2026.0,1415.8) scale(1.15,1)" text-anchor="middle" style="font-family:'Liberation Sans',sans-serif;font-size:36.5px" fill="#1a1a1a">0</text>
<text transform="translate(2224.7,1415.8) scale(1.15,1)" text-anchor="middle" style="font-family:'Liberation Sans',sans-serif;font-size:36.5px" fill="#1a1a1a">10</text>
<text transform="translate(2440.9,1415.8) scale(1.15,1)" text-anchor="middle" style="font-family:'Liberation Sans',sans-serif;font-size:36.5px" fill="#1a1a1a">20</text>
<text x="2077.8" y="1472" style="font-family:'Liberation Sans',sans-serif;font-size:36.7px" fill="#1a1a1a" textLength="359.5" lengthAdjust="spacingAndGlyphs">RF frequency(GHz)</text>
<text transform="translate(1920.5,1324) rotate(-90)" style="font-family:'Liberation Sans',sans-serif;font-size:43px" fill="#1a1a1a" textLength="288" lengthAdjust="spacingAndGlyphs">RF response(dB)</text>
<path d="M2041.0,1266.1 H2135.8" stroke="#078c12" stroke-width="4.4"/>
<path d="M2041.0,1308.0 H2070.9" stroke="#111" stroke-width="4"/>
<path d="M2090.9,1308.0 H2122.1" stroke="#111" stroke-width="4"/>
<text x="2156.5" y="1281.1" style="font-family:'Liberation Sans',sans-serif;font-size:30px" fill="#1a1a1a" textLength="98.5" lengthAdjust="spacingAndGlyphs">ODSB</text>
<text x="2156.5" y="1323.5" style="font-family:'Liberation Sans',sans-serif;font-size:30px" fill="#1a1a1a" textLength="96.5" lengthAdjust="spacingAndGlyphs">OSSB</text>
<text x="757.5" y="1582" style="font-family:'Liberation Sans',sans-serif;font-weight:bold;font-size:87px" fill="#000">(b)</text>
<text x="2045" y="1584" style="font-family:'Liberation Sans',sans-serif;font-weight:bold;font-size:87px" fill="#000">(d)</text>
</svg></body></html>
